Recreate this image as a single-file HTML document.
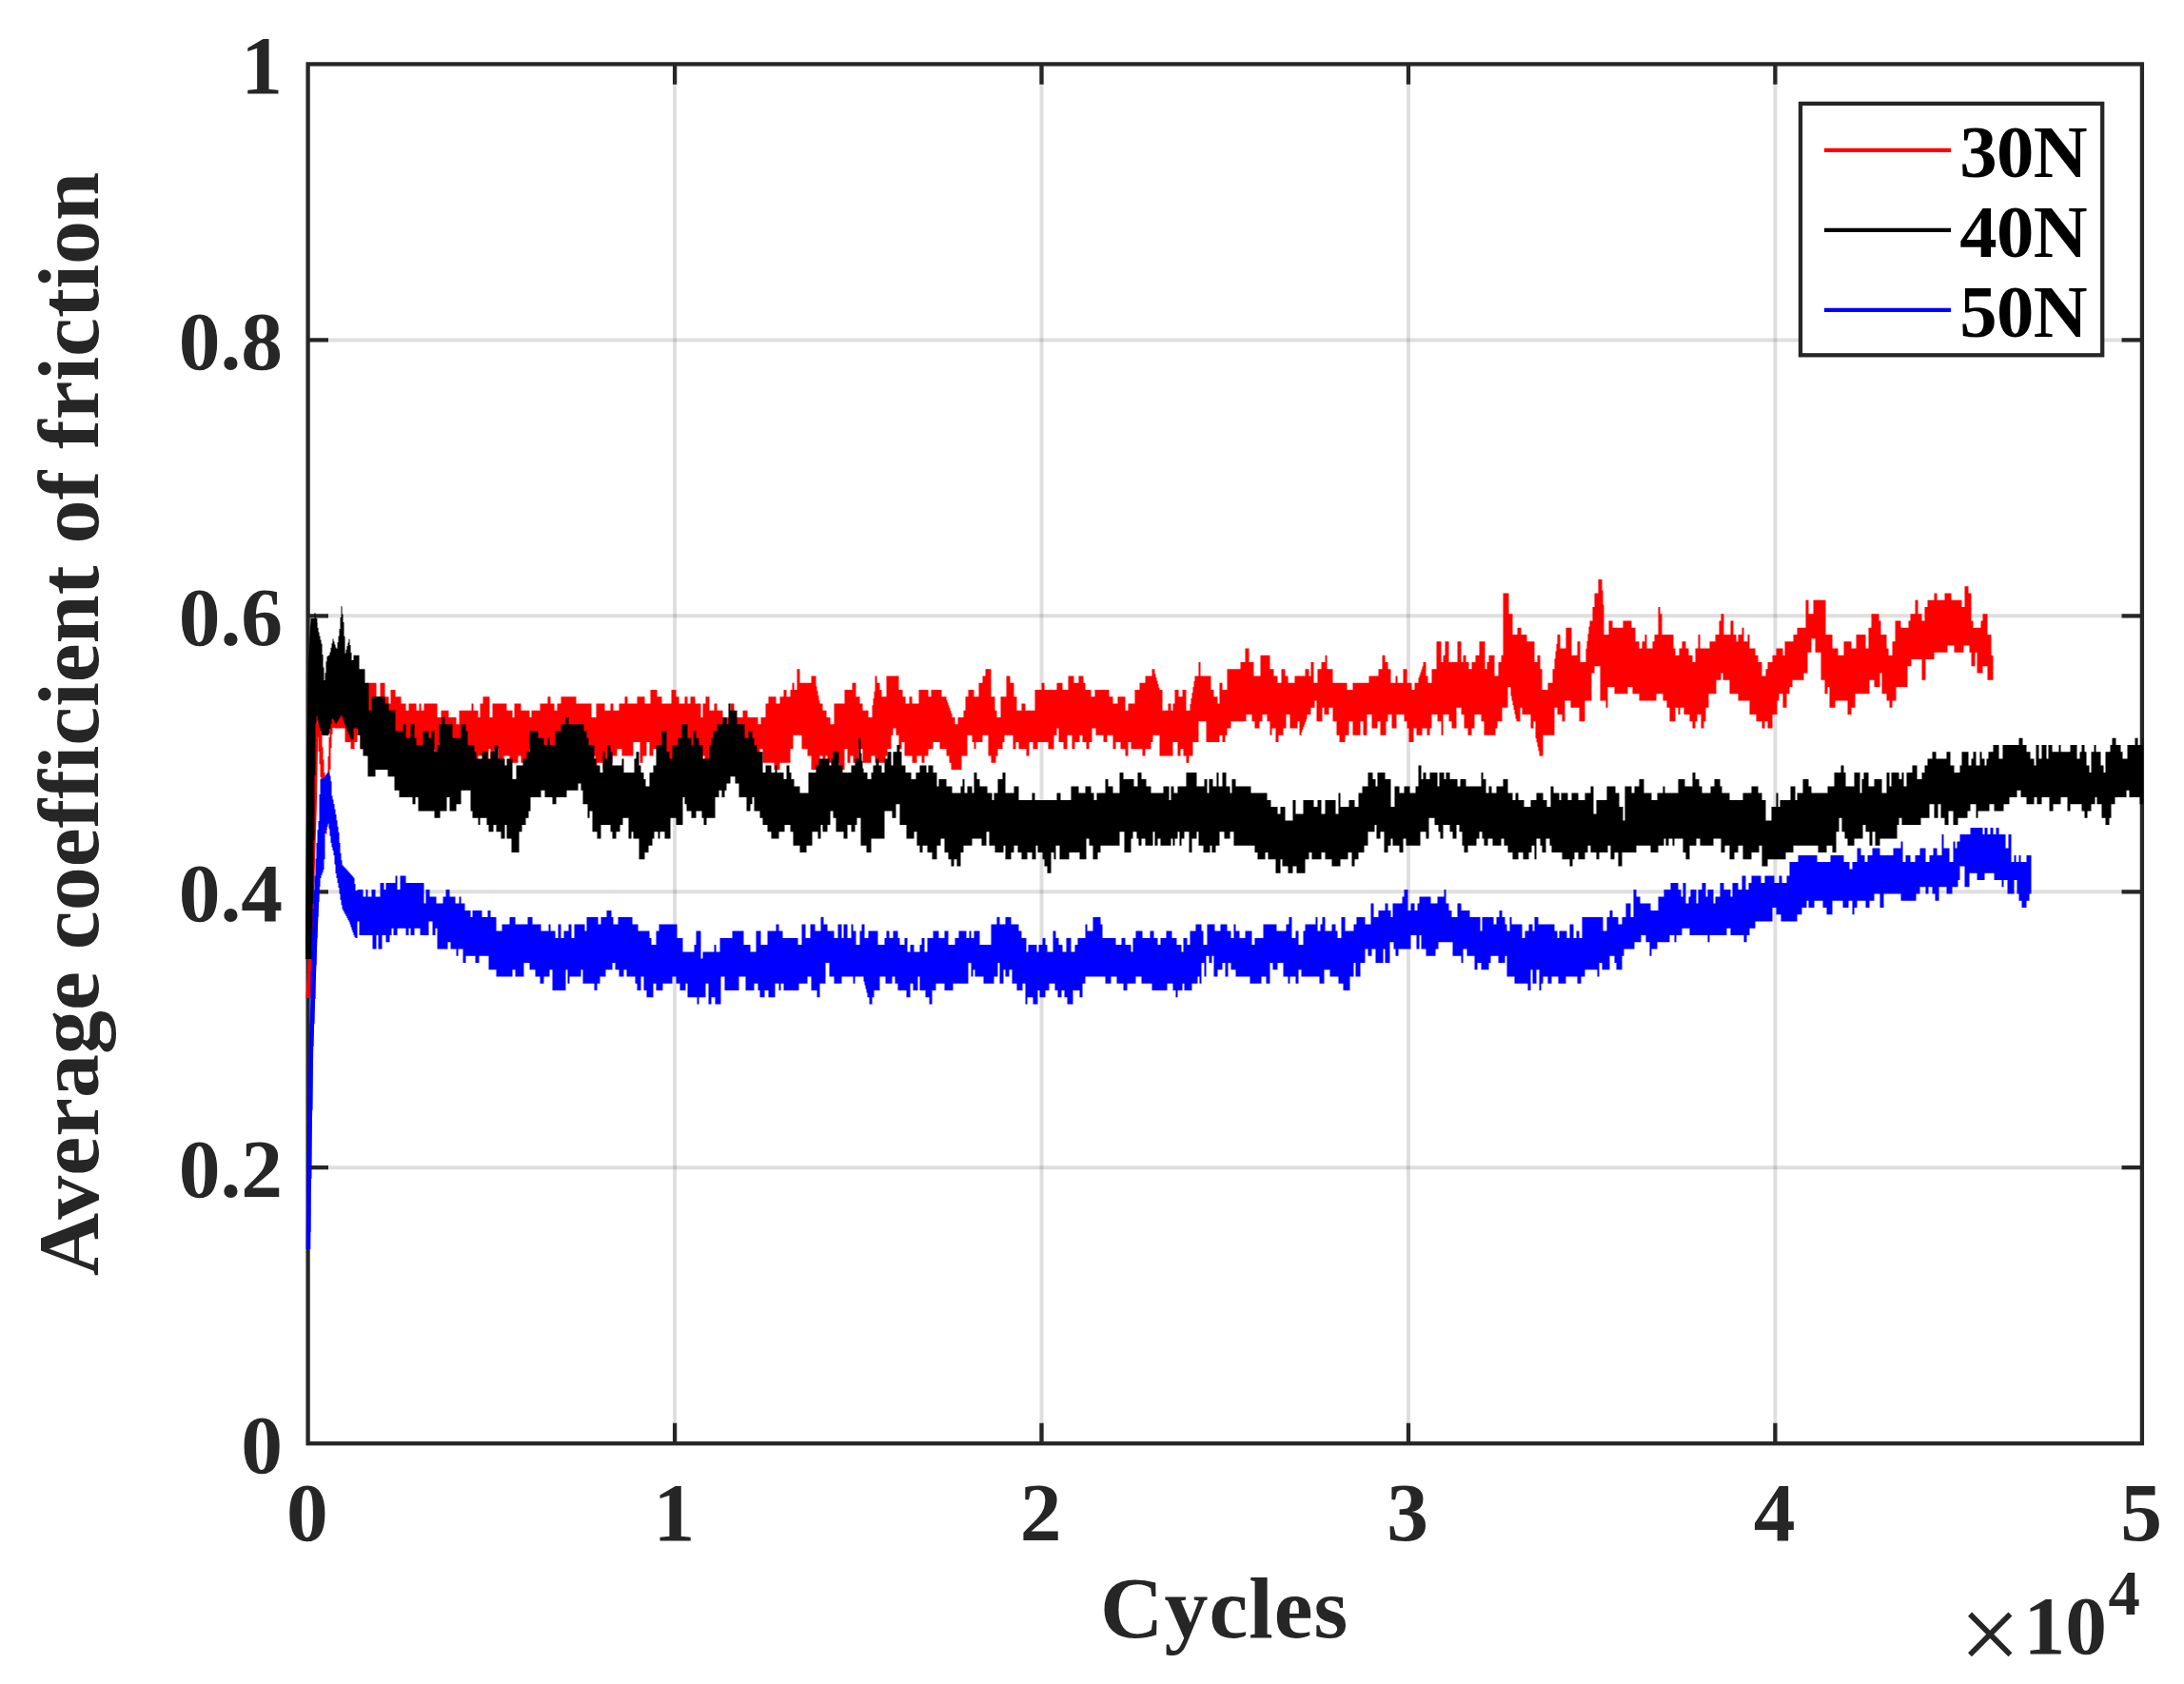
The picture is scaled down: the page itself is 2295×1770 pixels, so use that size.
<!DOCTYPE html>
<html lang="en"><head><meta charset="utf-8"><title>Average coefficient of friction vs Cycles</title>
<style>html,body{margin:0;padding:0;background:#fff;}body{width:2295px;height:1770px;overflow:hidden;}svg{display:block;}text{font-family:"Liberation Serif","Times New Roman",Times,serif;font-weight:bold;fill:#262626;font-variant-ligatures:none;}.tk{font-size:87.5px;}.lb{font-size:92px;}.lg{font-size:78.75px;fill:#000;}</style></head><body>
<svg width="2295" height="1770" viewBox="0 0 2295 1770">
<rect width="2295" height="1770" fill="#fff"/>
<defs><clipPath id="ax"><rect x="321.0" y="65.4" width="1931.1" height="1453.8"/></clipPath></defs>
<path d="M709.1,67.4V1517.2" stroke="#262626" stroke-opacity="0.15" stroke-width="4.0" fill="none"/>
<path d="M1094.5,67.4V1517.2" stroke="#262626" stroke-opacity="0.15" stroke-width="4.0" fill="none"/>
<path d="M1480.0,67.4V1517.2" stroke="#262626" stroke-opacity="0.15" stroke-width="4.0" fill="none"/>
<path d="M1865.4,67.4V1517.2" stroke="#262626" stroke-opacity="0.15" stroke-width="4.0" fill="none"/>
<path d="M323.6,1227.2H2250.9" stroke="#262626" stroke-opacity="0.15" stroke-width="4.0" fill="none"/>
<path d="M323.6,937.3H2250.9" stroke="#262626" stroke-opacity="0.15" stroke-width="4.0" fill="none"/>
<path d="M323.6,647.3H2250.9" stroke="#262626" stroke-opacity="0.15" stroke-width="4.0" fill="none"/>
<path d="M323.6,357.4H2250.9" stroke="#262626" stroke-opacity="0.15" stroke-width="4.0" fill="none"/>
<path d="M709.1,1517.2v-21.4M709.1,67.4v21.4M1094.5,1517.2v-21.4M1094.5,67.4v21.4M1480.0,1517.2v-21.4M1480.0,67.4v21.4M1865.4,1517.2v-21.4M1865.4,67.4v21.4M323.6,1227.2h21.4M2250.9,1227.2h-21.4M323.6,937.3h21.4M2250.9,937.3h-21.4M323.6,647.3h21.4M2250.9,647.3h-21.4M323.6,357.4h21.4M2250.9,357.4h-21.4" stroke="#262626" stroke-width="4.3" fill="none"/>
<rect x="323.6" y="67.4" width="1927.3" height="1449.8" fill="none" stroke="#262626" stroke-width="4.3"/>
<g clip-path="url(#ax)">
<path d="M324,1049L326.3,1000 328.6,900 330.3,850 332,760" fill="none" stroke="#ff0000" stroke-width="5"/>
<path d="M323.5,1040 324.5,1040 324.5,980 325.5,980 325.5,916.7 326.5,916.7 326.5,850 327.5,850 327.5,803.3 328.5,803.3 328.5,763.3 329.5,763.3 329.5,730 330.5,730 330.5,724 331.5,724 331.5,718 332.5,718 332.5,719 333.5,719 333.5,727 334.5,727 334.5,735 335.5,735 335.5,747.3 336.5,747.3 336.5,759.7 337.5,759.7 337.5,772 338.5,772 338.5,785.2 339.5,785.2 339.5,798.4 340.5,798.4 340.5,812.1 341.5,812.1 341.5,826.4 342.5,826.4 342.5,828.7 343.5,828.7 343.5,812.9 344.5,812.9 344.5,795 345.5,795 345.5,775 346.5,775 346.5,755 347.5,755 347.5,735 348.5,735 348.5,721.7 349.5,721.7 349.5,715 350.5,715 350.5,714.7 351.5,714.7 351.5,732.2 355.5,732.2 355.5,710.4 372.5,710.4 372.5,717.7 376.5,717.7 376.5,724.9 383.5,724.9 383.5,732.2 386.5,732.2 386.5,717.7 395.5,717.7 395.5,732.2 399.5,732.2 399.5,717.7 404.5,717.7 404.5,732.2 408.5,732.2 408.5,739.4 410.5,739.4 410.5,724.9 415.5,724.9 415.5,732.2 421.5,732.2 421.5,739.4 426.5,739.4 426.5,746.7 429.5,746.7 429.5,739.4 437.5,739.4 437.5,746.7 440.5,746.7 440.5,739.4 442.5,739.4 442.5,746.7 445.5,746.7 445.5,739.4 459.5,739.4 459.5,753.9 463.5,753.9 463.5,746.7 471.5,746.7 471.5,753.9 479.5,753.9 479.5,761.2 482.5,761.2 482.5,746.7 495.5,746.7 495.5,739.4 497.5,739.4 497.5,746.7 502.5,746.7 502.5,753.9 504.5,753.9 504.5,739.4 507.5,739.4 507.5,732.2 514.5,732.2 514.5,753.9 517.5,753.9 517.5,739.4 532.5,739.4 532.5,746.7 538.5,746.7 538.5,753.9 540.5,753.9 540.5,739.4 547.5,739.4 547.5,746.7 556.5,746.7 556.5,753.9 558.5,753.9 558.5,746.7 567.5,746.7 567.5,739.4 575.5,739.4 575.5,732.2 578.5,732.2 578.5,739.4 582.5,739.4 582.5,746.7 585.5,746.7 585.5,739.4 589.5,739.4 589.5,732.2 605.5,732.2 605.5,739.4 621.5,739.4 621.5,753.9 626.5,753.9 626.5,739.4 635.5,739.4 635.5,746.7 641.5,746.7 641.5,739.4 644.5,739.4 644.5,746.7 650.5,746.7 650.5,739.4 656.5,739.4 656.5,732.2 659.5,732.2 659.5,739.4 669.5,739.4 669.5,732.2 677.5,732.2 677.5,739.4 683.5,739.4 683.5,724.9 690.5,724.9 690.5,732.2 695.5,732.2 695.5,739.4 705.5,739.4 705.5,724.9 710.5,724.9 710.5,732.2 713.5,732.2 713.5,739.4 719.5,739.4 719.5,732.2 722.5,732.2 722.5,739.4 725.5,739.4 725.5,732.2 730.5,732.2 730.5,739.4 736.5,739.4 736.5,753.9 738.5,753.9 738.5,739.4 741.5,739.4 741.5,732.2 745.5,732.2 745.5,746.7 750.5,746.7 750.5,739.4 753.5,739.4 753.5,746.7 759.5,746.7 759.5,753.9 767.5,753.9 767.5,739.4 771.5,739.4 771.5,753.9 780.5,753.9 780.5,746.7 785.5,746.7 785.5,753.9 796.5,753.9 796.5,761.2 799.5,761.2 799.5,753.9 804.5,753.9 804.5,739.4 807.5,739.4 807.5,732.2 815.5,732.2 815.5,739.4 819.5,739.4 819.5,732.2 823.5,732.2 823.5,724.9 826.5,724.9 826.5,732.2 830.5,732.2 830.5,724.9 832.5,724.9 832.5,717.7 834.5,717.7 834.5,724.9 837.5,724.9 837.5,703.2 840.5,703.2 840.5,717.7 852.5,717.7 852.5,710.4 857.5,710.4 857.5,721.2 858.5,721.2 858.5,726.2 859.5,726.2 859.5,731.2 860.5,731.2 860.5,736.2 861.5,736.2 861.5,739.4 864.5,739.4 864.5,746.7 868.5,746.7 868.5,753.9 872.5,753.9 872.5,761.2 876.5,761.2 876.5,739.4 887.5,739.4 887.5,724.9 895.5,724.9 895.5,717.7 899.5,717.7 899.5,732.2 903.5,732.2 903.5,739.4 906.5,739.4 906.5,746.7 912.5,746.7 912.5,753.9 916.5,753.9 916.5,741.3 917.5,741.3 917.5,734.1 918.5,734.1 918.5,726.8 919.5,726.8 919.5,710.4 921.5,710.4 921.5,717.7 924.5,717.7 924.5,724.9 926.5,724.9 926.5,732.2 931.5,732.2 931.5,710.4 944.5,710.4 944.5,724.9 948.5,724.9 948.5,732.2 951.5,732.2 951.5,739.4 955.5,739.4 955.5,732.2 958.5,732.2 958.5,739.4 965.5,739.4 965.5,724.9 975.5,724.9 975.5,732.2 978.5,732.2 978.5,724.9 989.5,724.9 989.5,732.2 994.5,732.2 994.5,735.8 995.5,735.8 995.5,738.6 996.5,738.6 996.5,741.4 997.5,741.4 997.5,744.2 998.5,744.2 998.5,747 999.5,747 999.5,749.8 1000.5,749.8 1000.5,753.9 1003.5,753.9 1003.5,761.2 1006.5,761.2 1006.5,753.9 1012.5,753.9 1012.5,746.7 1014.5,746.7 1014.5,732.2 1017.5,732.2 1017.5,724.9 1023.5,724.9 1023.5,732.2 1028.5,732.2 1028.5,717.7 1032.5,717.7 1032.5,710.4 1035.5,710.4 1035.5,703.2 1041.5,703.2 1041.5,732.2 1045.5,732.2 1045.5,746.7 1047.5,746.7 1047.5,753.9 1051.5,753.9 1051.5,732.2 1057.5,732.2 1057.5,710.4 1061.5,710.4 1061.5,717.7 1065.5,717.7 1065.5,732.2 1068.5,732.2 1068.5,746.7 1073.5,746.7 1073.5,739.4 1077.5,739.4 1077.5,746.7 1087.5,746.7 1087.5,724.9 1094.5,724.9 1094.5,717.7 1097.5,717.7 1097.5,724.9 1110.5,724.9 1110.5,717.7 1116.5,717.7 1116.5,724.9 1122.5,724.9 1122.5,710.4 1128.5,710.4 1128.5,717.7 1133.5,717.7 1133.5,710.4 1138.5,710.4 1138.5,717.7 1140.5,717.7 1140.5,724.9 1146.5,724.9 1146.5,732.2 1150.5,732.2 1150.5,724.9 1165.5,724.9 1165.5,732.2 1169.5,732.2 1169.5,739.4 1174.5,739.4 1174.5,732.2 1182.5,732.2 1182.5,746.7 1185.5,746.7 1185.5,739.4 1192.5,739.4 1192.5,724.9 1197.5,724.9 1197.5,717.7 1203.5,717.7 1203.5,710.4 1210.5,710.4 1210.5,703.2 1213.5,703.2 1213.5,708.3 1214.5,708.3 1214.5,711.9 1215.5,711.9 1215.5,715.5 1216.5,715.5 1216.5,719.1 1217.5,719.1 1217.5,722.7 1218.5,722.7 1218.5,724.9 1221.5,724.9 1221.5,746.7 1227.5,746.7 1227.5,739.4 1230.5,739.4 1230.5,746.7 1232.5,746.7 1232.5,739.4 1234.5,739.4 1234.5,724.9 1238.5,724.9 1238.5,732.2 1242.5,732.2 1242.5,724.9 1246.5,724.9 1246.5,746.7 1250.5,746.7 1250.5,740.1 1251.5,740.1 1251.5,734.1 1252.5,734.1 1252.5,728.1 1253.5,728.1 1253.5,722.1 1254.5,722.1 1254.5,716.1 1255.5,716.1 1255.5,710.4 1259.5,710.4 1259.5,695.9 1261.5,695.9 1261.5,710.4 1272.5,710.4 1272.5,724.9 1275.5,724.9 1275.5,732.2 1279.5,732.2 1279.5,739.4 1281.5,739.4 1281.5,717.7 1284.5,717.7 1284.5,724.9 1289.5,724.9 1289.5,703.2 1303.5,703.2 1303.5,695.9 1308.5,695.9 1308.5,681.4 1312.5,681.4 1312.5,695.9 1317.5,695.9 1317.5,710.4 1324.5,710.4 1324.5,688.7 1334.5,688.7 1334.5,703.2 1338.5,703.2 1338.5,710.4 1342.5,710.4 1342.5,717.7 1346.5,717.7 1346.5,703.2 1350.5,703.2 1350.5,710.4 1353.5,710.4 1353.5,717.7 1360.5,717.7 1360.5,710.4 1371.5,710.4 1371.5,703.2 1375.5,703.2 1375.5,710.4 1377.5,710.4 1377.5,695.9 1380.5,695.9 1380.5,717.7 1384.5,717.7 1384.5,703.2 1388.5,703.2 1388.5,695.9 1392.5,695.9 1392.5,688.7 1394.5,688.7 1394.5,703.2 1400.5,703.2 1400.5,717.7 1415.5,717.7 1415.5,724.9 1421.5,724.9 1421.5,717.7 1438.5,717.7 1438.5,710.4 1448.5,710.4 1448.5,703.2 1452.5,703.2 1452.5,688.7 1455.5,688.7 1455.5,695.9 1458.5,695.9 1458.5,703.2 1461.5,703.2 1461.5,717.7 1466.5,717.7 1466.5,710.4 1468.5,710.4 1468.5,717.7 1474.5,717.7 1474.5,703.2 1478.5,703.2 1478.5,717.7 1483.5,717.7 1483.5,724.9 1486.5,724.9 1486.5,717.7 1490.5,717.7 1490.5,712.3 1491.5,712.3 1491.5,709.4 1492.5,709.4 1492.5,706.4 1493.5,706.4 1493.5,703.5 1494.5,703.5 1494.5,700.6 1495.5,700.6 1495.5,695.9 1498.5,695.9 1498.5,710.4 1500.5,710.4 1500.5,717.7 1504.5,717.7 1504.5,703.2 1509.5,703.2 1509.5,674.2 1514.5,674.2 1514.5,695.9 1516.5,695.9 1516.5,688.7 1518.5,688.7 1518.5,674.2 1522.5,674.2 1522.5,695.9 1531.5,695.9 1531.5,674.2 1535.5,674.2 1535.5,695.9 1537.5,695.9 1537.5,688.7 1540.5,688.7 1540.5,695.9 1543.5,695.9 1543.5,703.2 1546.5,703.2 1546.5,695.9 1550.5,695.9 1550.5,688.7 1554.5,688.7 1554.5,674.2 1560.5,674.2 1560.5,703.2 1562.5,703.2 1562.5,695.9 1564.5,695.9 1564.5,688.7 1570.5,688.7 1570.5,710.4 1574.5,710.4 1574.5,695.9 1577.5,695.9 1577.5,688.7 1579.5,688.7 1579.5,623.4 1585.5,623.4 1585.5,645.2 1589.5,645.2 1589.5,666.9 1594.5,666.9 1594.5,659.7 1598.5,659.7 1598.5,666.9 1604.5,666.9 1604.5,674.2 1612.5,674.2 1612.5,695.9 1615.5,695.9 1615.5,688.7 1618.5,688.7 1618.5,703.2 1620.5,703.2 1620.5,724.9 1626.5,724.9 1626.5,717.7 1631.5,717.7 1631.5,703.2 1633.5,703.2 1633.5,692.3 1634.5,692.3 1634.5,684.6 1635.5,684.6 1635.5,676.8 1636.5,676.8 1636.5,666.9 1639.5,666.9 1639.5,681.4 1645.5,681.4 1645.5,659.7 1651.5,659.7 1651.5,688.7 1657.5,688.7 1657.5,674.2 1660.5,674.2 1660.5,695.9 1666.5,695.9 1666.5,681.8 1667.5,681.8 1667.5,674.1 1668.5,674.1 1668.5,666.3 1669.5,666.3 1669.5,658.6 1670.5,658.6 1670.5,652.4 1673.5,652.4 1673.5,637.9 1675.5,637.9 1675.5,623.4 1679.5,623.4 1679.5,608.9 1683.5,608.9 1683.5,620.6 1684.5,620.6 1684.5,635.4 1685.5,635.4 1685.5,666.9 1690.5,666.9 1690.5,652.4 1694.5,652.4 1694.5,659.7 1705.5,659.7 1705.5,652.4 1714.5,652.4 1714.5,659.7 1718.5,659.7 1718.5,674.2 1722.5,674.2 1722.5,681.4 1725.5,681.4 1725.5,674.2 1728.5,674.2 1728.5,666.9 1730.5,666.9 1730.5,681.4 1736.5,681.4 1736.5,674.2 1738.5,674.2 1738.5,666.9 1742.5,666.9 1742.5,637.9 1744.5,637.9 1744.5,645.2 1746.5,645.2 1746.5,666.9 1758.5,666.9 1758.5,681.4 1760.5,681.4 1760.5,688.7 1764.5,688.7 1764.5,681.4 1767.5,681.4 1767.5,674.2 1771.5,674.2 1771.5,681.4 1774.5,681.4 1774.5,688.7 1778.5,688.7 1778.5,695.9 1781.5,695.9 1781.5,681.4 1784.5,681.4 1784.5,666.9 1786.5,666.9 1786.5,681.4 1796.5,681.4 1796.5,674.2 1802.5,674.2 1802.5,666.9 1806.5,666.9 1806.5,652.4 1808.5,652.4 1808.5,645.2 1811.5,645.2 1811.5,666.9 1818.5,666.9 1818.5,652.4 1821.5,652.4 1821.5,666.9 1824.5,666.9 1824.5,674.2 1826.5,674.2 1826.5,666.9 1830.5,666.9 1830.5,659.7 1832.5,659.7 1832.5,674.2 1836.5,674.2 1836.5,666.9 1838.5,666.9 1838.5,681.4 1844.5,681.4 1844.5,688.7 1847.5,688.7 1847.5,695.9 1851.5,695.9 1851.5,710.4 1855.5,710.4 1855.5,703.2 1857.5,703.2 1857.5,695.9 1862.5,695.9 1862.5,688.7 1866.5,688.7 1866.5,681.4 1873.5,681.4 1873.5,688.7 1875.5,688.7 1875.5,674.2 1884.5,674.2 1884.5,666.9 1888.5,666.9 1888.5,659.7 1897.5,659.7 1897.5,630.7 1900.5,630.7 1900.5,645.2 1905.5,645.2 1905.5,630.7 1918.5,630.7 1918.5,666.9 1925.5,666.9 1925.5,681.4 1931.5,681.4 1931.5,688.7 1937.5,688.7 1937.5,674.2 1945.5,674.2 1945.5,681.4 1950.5,681.4 1950.5,666.9 1960.5,666.9 1960.5,681.4 1963.5,681.4 1963.5,659.7 1966.5,659.7 1966.5,645.2 1974.5,645.2 1974.5,652.4 1976.5,652.4 1976.5,666.9 1982.5,666.9 1982.5,681.4 1984.5,681.4 1984.5,688.7 1988.5,688.7 1988.5,674.2 1991.5,674.2 1991.5,652.4 1997.5,652.4 1997.5,659.7 2005.5,659.7 2005.5,652.4 2007.5,652.4 2007.5,645.2 2012.5,645.2 2012.5,630.7 2015.5,630.7 2015.5,645.2 2019.5,645.2 2019.5,652.4 2022.5,652.4 2022.5,637.9 2025.5,637.9 2025.5,630.7 2032.5,630.7 2032.5,623.4 2035.5,623.4 2035.5,630.7 2043.5,630.7 2043.5,623.4 2050.5,623.4 2050.5,630.7 2061.5,630.7 2061.5,637.9 2064.5,637.9 2064.5,616.2 2068.5,616.2 2068.5,623.4 2071.5,623.4 2071.5,652.4 2073.5,652.4 2073.5,659.7 2081.5,659.7 2081.5,652.4 2083.5,652.4 2083.5,645.2 2088.5,645.2 2088.5,666.9 2092.5,666.9 2092.5,688.7 2094.5,688.7 2094.5,714.7 2088.5,714.7 2088.5,700.2 2083.5,700.2 2083.5,707.5 2077.5,707.5 2077.5,685.7 2075.5,685.7 2075.5,700.2 2071.5,700.2 2071.5,685.7 2069.5,685.7 2069.5,678.5 2063.5,678.5 2063.5,685.7 2053.5,685.7 2053.5,678.5 2046.5,678.5 2046.5,685.7 2032.5,685.7 2032.5,693 2023.5,693 2023.5,714.7 2019.5,714.7 2019.5,693 2008.5,693 2008.5,700.2 2004.5,700.2 2004.5,722 1992.5,722 1992.5,736.5 1988.5,736.5 1988.5,743.7 1985.5,743.7 1985.5,736.5 1982.5,736.5 1982.5,729.2 1977.5,729.2 1977.5,707.5 1975.5,707.5 1975.5,722 1969.5,722 1969.5,714.7 1964.5,714.7 1964.5,729.2 1949.5,729.2 1949.5,743.7 1945.5,743.7 1945.5,751 1941.5,751 1941.5,736.5 1928.5,736.5 1928.5,743.7 1922.5,743.7 1922.5,722 1920.5,722 1920.5,729.2 1917.5,729.2 1917.5,714.7 1913.5,714.7 1913.5,685.7 1907.5,685.7 1907.5,671.2 1903.5,671.2 1903.5,685.7 1899.5,685.7 1899.5,707.5 1895.5,707.5 1895.5,714.7 1883.5,714.7 1883.5,722 1880.5,722 1880.5,729.2 1877.5,729.2 1877.5,743.7 1873.5,743.7 1873.5,729.2 1869.5,729.2 1869.5,736.5 1867.5,736.5 1867.5,751 1862.5,751 1862.5,765.5 1857.5,765.5 1857.5,758.2 1854.5,758.2 1854.5,765.5 1851.5,765.5 1851.5,758.2 1845.5,758.2 1845.5,751 1838.5,751 1838.5,736.5 1826.5,736.5 1826.5,729.2 1817.5,729.2 1817.5,714.7 1810.5,714.7 1810.5,707.5 1808.5,707.5 1808.5,714.7 1803.5,714.7 1803.5,729.2 1795.5,729.2 1795.5,743.7 1792.5,743.7 1792.5,758.2 1790.5,758.2 1790.5,765.5 1787.5,765.5 1787.5,751 1783.5,751 1783.5,758.2 1781.5,758.2 1781.5,765.5 1778.5,765.5 1778.5,758.2 1775.5,758.2 1775.5,751 1769.5,751 1769.5,743.7 1765.5,743.7 1765.5,751 1763.5,751 1763.5,743.7 1760.5,743.7 1760.5,758.2 1754.5,758.2 1754.5,743.7 1751.5,743.7 1751.5,736.5 1747.5,736.5 1747.5,729.2 1740.5,729.2 1740.5,736.5 1722.5,736.5 1722.5,729.2 1715.5,729.2 1715.5,722 1710.5,722 1710.5,729.2 1696.5,729.2 1696.5,722 1689.5,722 1689.5,743.7 1687.5,743.7 1687.5,736.5 1681.5,736.5 1681.5,700.2 1675.5,700.2 1675.5,707.5 1672.5,707.5 1672.5,736.5 1665.5,736.5 1665.5,758.2 1659.5,758.2 1659.5,743.7 1650.5,743.7 1650.5,736.5 1644.5,736.5 1644.5,758.2 1641.5,758.2 1641.5,751 1636.5,751 1636.5,743.7 1633.5,743.7 1633.5,772.7 1621.5,772.7 1621.5,794.5 1617.5,794.5 1617.5,789.2 1616.5,789.2 1616.5,784.8 1615.5,784.8 1615.5,780.3 1614.5,780.3 1614.5,775.9 1613.5,775.9 1613.5,758.2 1611.5,758.2 1611.5,765.5 1608.5,765.5 1608.5,751 1599.5,751 1599.5,743.7 1597.5,743.7 1597.5,758.2 1593.5,758.2 1593.5,755.6 1592.5,755.6 1592.5,750.8 1591.5,750.8 1591.5,746 1590.5,746 1590.5,741.2 1589.5,741.2 1589.5,736.4 1588.5,736.4 1588.5,731.6 1587.5,731.6 1587.5,722 1584.5,722 1584.5,743.7 1578.5,743.7 1578.5,758.2 1573.5,758.2 1573.5,765.5 1571.5,765.5 1571.5,772.7 1559.5,772.7 1559.5,758.2 1556.5,758.2 1556.5,751 1549.5,751 1549.5,765.5 1546.5,765.5 1546.5,772.7 1542.5,772.7 1542.5,765.5 1538.5,765.5 1538.5,751 1535.5,751 1535.5,743.7 1530.5,743.7 1530.5,765.5 1525.5,765.5 1525.5,758.2 1522.5,758.2 1522.5,751 1516.5,751 1516.5,772.7 1514.5,772.7 1514.5,758.2 1510.5,758.2 1510.5,751 1504.5,751 1504.5,765.5 1502.5,765.5 1502.5,772.7 1499.5,772.7 1499.5,765.5 1494.5,765.5 1494.5,772.7 1488.5,772.7 1488.5,765.5 1485.5,765.5 1485.5,780 1480.5,780 1480.5,765.5 1478.5,765.5 1478.5,758.2 1475.5,758.2 1475.5,751 1467.5,751 1467.5,765.5 1462.5,765.5 1462.5,751 1458.5,751 1458.5,758.2 1456.5,758.2 1456.5,772.7 1450.5,772.7 1450.5,758.2 1447.5,758.2 1447.5,765.5 1441.5,765.5 1441.5,751 1436.5,751 1436.5,772.7 1432.5,772.7 1432.5,758.2 1429.5,758.2 1429.5,772.7 1421.5,772.7 1421.5,758.2 1417.5,758.2 1417.5,772.7 1413.5,772.7 1413.5,780 1407.5,780 1407.5,772.7 1404.5,772.7 1404.5,758.2 1400.5,758.2 1400.5,743.7 1396.5,743.7 1396.5,751 1391.5,751 1391.5,743.7 1389.5,743.7 1389.5,758.2 1383.5,758.2 1383.5,736.5 1381.5,736.5 1381.5,743.7 1377.5,743.7 1377.5,751 1373.5,751 1373.5,756 1372.5,756 1372.5,758.7 1371.5,758.7 1371.5,761.4 1370.5,761.4 1370.5,764.1 1369.5,764.1 1369.5,766.8 1368.5,766.8 1368.5,769.5 1367.5,769.5 1367.5,772.7 1365.5,772.7 1365.5,758.2 1363.5,758.2 1363.5,765.5 1355.5,765.5 1355.5,751 1351.5,751 1351.5,765.5 1348.5,765.5 1348.5,772.7 1343.5,772.7 1343.5,780 1340.5,780 1340.5,765.5 1336.5,765.5 1336.5,772.7 1334.5,772.7 1334.5,758.2 1331.5,758.2 1331.5,751 1326.5,751 1326.5,758.2 1323.5,758.2 1323.5,765.5 1318.5,765.5 1318.5,758.2 1315.5,758.2 1315.5,751 1309.5,751 1309.5,758.2 1293.5,758.2 1293.5,765.5 1289.5,765.5 1289.5,772.7 1287.5,772.7 1287.5,780 1284.5,780 1284.5,772.7 1281.5,772.7 1281.5,780 1267.5,780 1267.5,758.2 1259.5,758.2 1259.5,780 1253.5,780 1253.5,794.5 1249.5,794.5 1249.5,801.7 1246.5,801.7 1246.5,794.5 1243.5,794.5 1243.5,787.2 1240.5,787.2 1240.5,794.5 1237.5,794.5 1237.5,780 1232.5,780 1232.5,794.5 1218.5,794.5 1218.5,772.7 1211.5,772.7 1211.5,780 1209.5,780 1209.5,787.2 1203.5,787.2 1203.5,794.5 1200.5,794.5 1200.5,787.2 1188.5,787.2 1188.5,780 1185.5,780 1185.5,794.5 1182.5,794.5 1182.5,787.2 1177.5,787.2 1177.5,780 1172.5,780 1172.5,787.2 1169.5,787.2 1169.5,772.7 1163.5,772.7 1163.5,780 1159.5,780 1159.5,772.7 1151.5,772.7 1151.5,765.5 1147.5,765.5 1147.5,780 1144.5,780 1144.5,787.2 1141.5,787.2 1141.5,780 1137.5,780 1137.5,772.7 1134.5,772.7 1134.5,780 1129.5,780 1129.5,787.2 1126.5,787.2 1126.5,772.7 1121.5,772.7 1121.5,787.2 1117.5,787.2 1117.5,780 1112.5,780 1112.5,765.5 1110.5,765.5 1110.5,772.7 1107.5,772.7 1107.5,787.2 1101.5,787.2 1101.5,780 1090.5,780 1090.5,787.2 1085.5,787.2 1085.5,780 1081.5,780 1081.5,794.5 1078.5,794.5 1078.5,787.2 1070.5,787.2 1070.5,780 1067.5,780 1067.5,787.2 1064.5,787.2 1064.5,772.7 1055.5,772.7 1055.5,780 1053.5,780 1053.5,787.2 1048.5,787.2 1048.5,794.5 1046.5,794.5 1046.5,801.7 1041.5,801.7 1041.5,794.5 1038.5,794.5 1038.5,772.7 1032.5,772.7 1032.5,780 1025.5,780 1025.5,787.2 1023.5,787.2 1023.5,780 1021.5,780 1021.5,772.7 1016.5,772.7 1016.5,794.5 1010.5,794.5 1010.5,808.9 999.5,808.9 999.5,801.7 997.5,801.7 997.5,794.5 994.5,794.5 994.5,787.2 987.5,787.2 987.5,780 980.5,780 980.5,787.2 975.5,787.2 975.5,794.5 971.5,794.5 971.5,801.7 968.5,801.7 968.5,794.5 963.5,794.5 963.5,801.7 958.5,801.7 958.5,794.5 950.5,794.5 950.5,780 947.5,780 947.5,787.2 944.5,787.2 944.5,772.7 941.5,772.7 941.5,765.5 938.5,765.5 938.5,772.7 936.5,772.7 936.5,787.2 932.5,787.2 932.5,794.5 930.5,794.5 930.5,801.7 919.5,801.7 919.5,794.5 915.5,794.5 915.5,801.7 906.5,801.7 906.5,787.2 902.5,787.2 902.5,801.7 896.5,801.7 896.5,794.5 893.5,794.5 893.5,801.7 890.5,801.7 890.5,787.2 887.5,787.2 887.5,808.9 881.5,808.9 881.5,801.7 869.5,801.7 869.5,794.5 867.5,794.5 867.5,801.7 864.5,801.7 864.5,794.5 861.5,794.5 861.5,808.9 852.5,808.9 852.5,794.5 848.5,794.5 848.5,787.2 842.5,787.2 842.5,772.7 833.5,772.7 833.5,787.2 830.5,787.2 830.5,801.7 819.5,801.7 819.5,808.9 813.5,808.9 813.5,801.7 801.5,801.7 801.5,787.2 798.5,787.2 798.5,801.7 778.5,801.7 778.5,808.9 775.5,808.9 775.5,787.2 769.5,787.2 769.5,801.7 766.5,801.7 766.5,794.5 760.5,794.5 760.5,801.7 747.5,801.7 747.5,808.9 744.5,808.9 744.5,801.7 740.5,801.7 740.5,794.5 738.5,794.5 738.5,801.7 735.5,801.7 735.5,794.5 731.5,794.5 731.5,801.7 698.5,801.7 698.5,794.5 696.5,794.5 696.5,801.7 692.5,801.7 692.5,787.2 686.5,787.2 686.5,794.5 682.5,794.5 682.5,780 679.5,780 679.5,794.5 675.5,794.5 675.5,801.7 672.5,801.7 672.5,780 665.5,780 665.5,794.5 653.5,794.5 653.5,787.2 648.5,787.2 648.5,794.5 643.5,794.5 643.5,801.7 636.5,801.7 636.5,808.9 633.5,808.9 633.5,801.7 627.5,801.7 627.5,808.9 625.5,808.9 625.5,794.5 619.5,794.5 619.5,801.7 615.5,801.7 615.5,794.5 610.5,794.5 610.5,801.7 605.5,801.7 605.5,787.2 602.5,787.2 602.5,808.9 597.5,808.9 597.5,801.7 594.5,801.7 594.5,794.5 590.5,794.5 590.5,801.7 581.5,801.7 581.5,794.5 570.5,794.5 570.5,801.7 562.5,801.7 562.5,808.9 559.5,808.9 559.5,787.2 556.5,787.2 556.5,801.7 547.5,801.7 547.5,794.5 544.5,794.5 544.5,801.7 535.5,801.7 535.5,794.5 529.5,794.5 529.5,801.7 526.5,801.7 526.5,808.9 523.5,808.9 523.5,787.2 519.5,787.2 519.5,808.9 515.5,808.9 515.5,787.2 513.5,787.2 513.5,801.7 507.5,801.7 507.5,794.5 502.5,794.5 502.5,801.7 499.5,801.7 499.5,808.9 493.5,808.9 493.5,801.7 484.5,801.7 484.5,794.5 481.5,794.5 481.5,801.7 472.5,801.7 472.5,794.5 464.5,794.5 464.5,780 461.5,780 461.5,794.5 456.5,794.5 456.5,787.2 452.5,787.2 452.5,794.5 446.5,794.5 446.5,787.2 443.5,787.2 443.5,794.5 437.5,794.5 437.5,787.2 433.5,787.2 433.5,794.5 429.5,794.5 429.5,780 427.5,780 427.5,794.5 420.5,794.5 420.5,787.2 417.5,787.2 417.5,794.5 407.5,794.5 407.5,787.2 405.5,787.2 405.5,801.7 399.5,801.7 399.5,794.5 390.5,794.5 390.5,801.7 388.5,801.7 388.5,794.5 385.5,794.5 385.5,772.7 381.5,772.7 381.5,787.2 378.5,787.2 378.5,765.5 375.5,765.5 375.5,780 372.5,780 372.5,787.2 368.5,787.2 368.5,780 362.5,780 362.5,765.5 351.5,765.5 351.5,765 349.5,765 349.5,771.7 348.5,771.7 348.5,786.2 347.5,786.2 347.5,808.8 346.5,808.8 346.5,830.5 345.5,830.5 345.5,851.5 344.5,851.5 344.5,867 343.5,867 343.5,877 342.5,877 342.5,875.6 341.5,875.6 341.5,866.5 340.5,866.5 340.5,855.6 339.5,855.6 339.5,842.8 338.5,842.8 338.5,830 337.5,830 337.5,816.7 336.5,816.7 336.5,803.3 335.5,803.3 335.5,790 334.5,790 334.5,774.8 333.5,774.8 333.5,759.6 332.5,759.6 332.5,764.7 331.5,764.7 331.5,790 330.5,790 330.5,863.3 329.5,863.3 329.5,933.3 328.5,933.3 328.5,1000 327.5,1000 327.5,1024.5 326.5,1024.5 326.5,1049 323.5,1049Z" fill="#ff0000"/>
<path d="M324.2,1008L325.8,820 327.5,700 330,650" fill="none" stroke="#000000" stroke-width="7"/>
<path d="M323.5,1000 324.5,1000 324.5,950 325.5,950 325.5,900 326.5,900 326.5,800 327.5,800 327.5,733.3 328.5,733.3 328.5,687.5 329.5,687.5 329.5,662.5 330.5,662.5 330.5,644.2 331.5,644.2 331.5,649.4 332.5,649.4 332.5,654.6 333.5,654.6 333.5,659.8 334.5,659.8 334.5,664.4 335.5,664.4 335.5,668.4 336.5,668.4 336.5,672.4 337.5,672.4 337.5,676.4 338.5,676.4 338.5,688 339.5,688 339.5,701.5 340.5,701.5 340.5,715 341.5,715 341.5,707.3 342.5,707.3 342.5,695.3 343.5,695.3 343.5,690.1 344.5,690.1 344.5,689.3 345.5,689.3 345.5,688.6 346.5,688.6 346.5,685.4 347.5,685.4 347.5,680.8 348.5,680.8 348.5,676.2 349.5,676.2 349.5,671.6 350.5,671.6 350.5,674.2 351.5,674.2 351.5,677.4 352.5,677.4 352.5,680.6 353.5,680.6 353.5,681.7 354.5,681.7 354.5,675.2 355.5,675.2 355.5,668.7 356.5,668.7 356.5,660.9 357.5,660.9 357.5,648.9 358.5,648.9 358.5,637.3 359.5,637.3 359.5,645.6 360.5,645.6 360.5,653.9 361.5,653.9 361.5,668.8 362.5,668.8 362.5,686.4 363.5,686.4 363.5,682.8 364.5,682.8 364.5,679.1 365.5,679.1 365.5,675.4 366.5,675.4 366.5,671.8 367.5,671.8 367.5,678.1 368.5,678.1 368.5,686.1 369.5,686.1 369.5,694.1 370.5,694.1 370.5,693.7 371.5,693.7 371.5,688.7 377.5,688.7 377.5,703.2 383.5,703.2 383.5,717.7 387.5,717.7 387.5,746.7 390.5,746.7 390.5,732.2 404.5,732.2 404.5,739.4 408.5,739.4 408.5,746.7 415.5,746.7 415.5,768.4 423.5,768.4 423.5,761.2 426.5,761.2 426.5,775.7 431.5,775.7 431.5,761.2 435.5,761.2 435.5,775.7 437.5,775.7 437.5,782.9 444.5,782.9 444.5,768.4 450.5,768.4 450.5,775.7 453.5,775.7 453.5,768.4 456.5,768.4 456.5,790.2 459.5,790.2 459.5,782.9 461.5,782.9 461.5,761.2 464.5,761.2 464.5,753.9 467.5,753.9 467.5,761.2 475.5,761.2 475.5,775.7 484.5,775.7 484.5,761.2 489.5,761.2 489.5,768.4 491.5,768.4 491.5,782.9 498.5,782.9 498.5,790.2 500.5,790.2 500.5,797.4 506.5,797.4 506.5,790.2 512.5,790.2 512.5,797.4 515.5,797.4 515.5,790.2 519.5,790.2 519.5,782.9 523.5,782.9 523.5,797.4 530.5,797.4 530.5,804.6 532.5,804.6 532.5,797.4 538.5,797.4 538.5,819.1 542.5,819.1 542.5,804.6 549.5,804.6 549.5,797.4 553.5,797.4 553.5,790.2 556.5,790.2 556.5,768.4 565.5,768.4 565.5,775.7 571.5,775.7 571.5,782.9 575.5,782.9 575.5,775.7 577.5,775.7 577.5,782.9 583.5,782.9 583.5,768.4 589.5,768.4 589.5,761.2 594.5,761.2 594.5,753.9 597.5,753.9 597.5,761.2 613.5,761.2 613.5,768.4 616.5,768.4 616.5,775.7 618.5,775.7 618.5,782.9 624.5,782.9 624.5,797.4 626.5,797.4 626.5,804.6 630.5,804.6 630.5,811.9 633.5,811.9 633.5,790.2 635.5,790.2 635.5,797.4 638.5,797.4 638.5,782.9 641.5,782.9 641.5,790.2 643.5,790.2 643.5,804.6 653.5,804.6 653.5,797.4 655.5,797.4 655.5,811.9 666.5,811.9 666.5,797.4 668.5,797.4 668.5,790.2 671.5,790.2 671.5,804.6 673.5,804.6 673.5,811.9 676.5,811.9 676.5,819.1 678.5,819.1 678.5,826.4 682.5,826.4 682.5,811.9 686.5,811.9 686.5,804.6 689.5,804.6 689.5,782.9 695.5,782.9 695.5,768.4 700.5,768.4 700.5,790.2 703.5,790.2 703.5,797.4 706.5,797.4 706.5,782.9 712.5,782.9 712.5,775.7 716.5,775.7 716.5,761.2 722.5,761.2 722.5,775.7 726.5,775.7 726.5,782.9 728.5,782.9 728.5,768.4 731.5,768.4 731.5,775.7 734.5,775.7 734.5,782.9 738.5,782.9 738.5,797.4 745.5,797.4 745.5,782.9 747.5,782.9 747.5,775.7 749.5,775.7 749.5,768.4 753.5,768.4 753.5,761.2 759.5,761.2 759.5,753.9 763.5,753.9 763.5,761.2 765.5,761.2 765.5,739.4 767.5,739.4 767.5,746.7 774.5,746.7 774.5,761.2 782.5,761.2 782.5,775.7 786.5,775.7 786.5,768.4 790.5,768.4 790.5,775.7 792.5,775.7 792.5,782.9 795.5,782.9 795.5,790.2 801.5,790.2 801.5,811.9 804.5,811.9 804.5,804.6 810.5,804.6 810.5,811.9 814.5,811.9 814.5,804.6 816.5,804.6 816.5,811.9 823.5,811.9 823.5,819.1 826.5,819.1 826.5,804.6 829.5,804.6 829.5,811.9 831.5,811.9 831.5,819.1 834.5,819.1 834.5,826.4 840.5,826.4 840.5,833.6 849.5,833.6 849.5,811.9 857.5,811.9 857.5,804.6 860.5,804.6 860.5,797.4 871.5,797.4 871.5,804.6 873.5,804.6 873.5,797.4 875.5,797.4 875.5,790.2 881.5,790.2 881.5,804.6 885.5,804.6 885.5,811.9 894.5,811.9 894.5,804.6 898.5,804.6 898.5,797.4 902.5,797.4 902.5,775.7 904.5,775.7 904.5,791.8 905.5,791.8 905.5,799.8 906.5,799.8 906.5,807.7 907.5,807.7 907.5,811.9 911.5,811.9 911.5,819.1 915.5,819.1 915.5,811.9 917.5,811.9 917.5,804.6 920.5,804.6 920.5,797.4 923.5,797.4 923.5,804.6 926.5,804.6 926.5,811.9 929.5,811.9 929.5,797.4 932.5,797.4 932.5,790.2 936.5,790.2 936.5,804.6 938.5,804.6 938.5,790.2 942.5,790.2 942.5,782.9 945.5,782.9 945.5,790.2 947.5,790.2 947.5,804.6 951.5,804.6 951.5,811.9 957.5,811.9 957.5,819.1 962.5,819.1 962.5,811.9 966.5,811.9 966.5,804.6 973.5,804.6 973.5,811.9 975.5,811.9 975.5,804.6 980.5,804.6 980.5,811.9 984.5,811.9 984.5,826.4 986.5,826.4 986.5,819.1 994.5,819.1 994.5,826.4 1000.5,826.4 1000.5,833.6 1009.5,833.6 1009.5,826.4 1011.5,826.4 1011.5,819.1 1013.5,819.1 1013.5,833.6 1016.5,833.6 1016.5,826.4 1021.5,826.4 1021.5,833.6 1023.5,833.6 1023.5,811.9 1026.5,811.9 1026.5,819.1 1029.5,819.1 1029.5,826.4 1037.5,826.4 1037.5,833.6 1042.5,833.6 1042.5,840.9 1044.5,840.9 1044.5,833.6 1048.5,833.6 1048.5,819.1 1053.5,819.1 1053.5,811.9 1056.5,811.9 1056.5,833.6 1065.5,833.6 1065.5,826.4 1070.5,826.4 1070.5,840.9 1084.5,840.9 1084.5,833.6 1087.5,833.6 1087.5,840.9 1110.5,840.9 1110.5,833.6 1114.5,833.6 1114.5,840.9 1125.5,840.9 1125.5,826.4 1133.5,826.4 1133.5,833.6 1140.5,833.6 1140.5,826.4 1146.5,826.4 1146.5,833.6 1149.5,833.6 1149.5,840.9 1152.5,840.9 1152.5,833.6 1161.5,833.6 1161.5,819.1 1164.5,819.1 1164.5,826.4 1169.5,826.4 1169.5,833.6 1176.5,833.6 1176.5,811.9 1180.5,811.9 1180.5,819.1 1191.5,819.1 1191.5,826.4 1195.5,826.4 1195.5,811.9 1199.5,811.9 1199.5,819.1 1204.5,819.1 1204.5,826.4 1209.5,826.4 1209.5,833.6 1222.5,833.6 1222.5,826.4 1228.5,826.4 1228.5,840.9 1230.5,840.9 1230.5,826.4 1233.5,826.4 1233.5,833.6 1237.5,833.6 1237.5,826.4 1246.5,826.4 1246.5,811.9 1257.5,811.9 1257.5,826.4 1265.5,826.4 1265.5,819.1 1268.5,819.1 1268.5,833.6 1270.5,833.6 1270.5,819.1 1274.5,819.1 1274.5,826.4 1278.5,826.4 1278.5,811.9 1280.5,811.9 1280.5,826.4 1284.5,826.4 1284.5,811.9 1288.5,811.9 1288.5,826.4 1292.5,826.4 1292.5,833.6 1294.5,833.6 1294.5,819.1 1298.5,819.1 1298.5,826.4 1314.5,826.4 1314.5,833.6 1331.5,833.6 1331.5,840.9 1335.5,840.9 1335.5,848.1 1342.5,848.1 1342.5,855.4 1345.5,855.4 1345.5,848.1 1350.5,848.1 1350.5,862.6 1358.5,862.6 1358.5,840.9 1361.5,840.9 1361.5,855.4 1369.5,855.4 1369.5,840.9 1380.5,840.9 1380.5,848.1 1384.5,848.1 1384.5,840.9 1388.5,840.9 1388.5,855.4 1392.5,855.4 1392.5,840.9 1403.5,840.9 1403.5,855.4 1406.5,855.4 1406.5,833.6 1408.5,833.6 1408.5,848.1 1417.5,848.1 1417.5,840.9 1423.5,840.9 1423.5,848.1 1427.5,848.1 1427.5,833.6 1431.5,833.6 1431.5,826.4 1437.5,826.4 1437.5,811.9 1442.5,811.9 1442.5,819.1 1445.5,819.1 1445.5,826.4 1447.5,826.4 1447.5,811.9 1455.5,811.9 1455.5,819.1 1461.5,819.1 1461.5,848.1 1465.5,848.1 1465.5,826.4 1470.5,826.4 1470.5,833.6 1475.5,833.6 1475.5,826.4 1481.5,826.4 1481.5,833.6 1487.5,833.6 1487.5,826.4 1490.5,826.4 1490.5,804.6 1493.5,804.6 1493.5,819.1 1495.5,819.1 1495.5,811.9 1498.5,811.9 1498.5,819.1 1502.5,819.1 1502.5,811.9 1510.5,811.9 1510.5,826.4 1512.5,826.4 1512.5,811.9 1517.5,811.9 1517.5,819.1 1519.5,819.1 1519.5,811.9 1523.5,811.9 1523.5,819.1 1531.5,819.1 1531.5,826.4 1534.5,826.4 1534.5,819.1 1540.5,819.1 1540.5,826.4 1556.5,826.4 1556.5,811.9 1558.5,811.9 1558.5,819.1 1561.5,819.1 1561.5,833.6 1564.5,833.6 1564.5,826.4 1567.5,826.4 1567.5,833.6 1572.5,833.6 1572.5,826.4 1579.5,826.4 1579.5,819.1 1584.5,819.1 1584.5,833.6 1589.5,833.6 1589.5,840.9 1592.5,840.9 1592.5,833.6 1595.5,833.6 1595.5,840.9 1601.5,840.9 1601.5,848.1 1608.5,848.1 1608.5,840.9 1614.5,840.9 1614.5,833.6 1621.5,833.6 1621.5,840.9 1625.5,840.9 1625.5,848.1 1629.5,848.1 1629.5,826.4 1632.5,826.4 1632.5,833.6 1638.5,833.6 1638.5,840.9 1640.5,840.9 1640.5,833.6 1647.5,833.6 1647.5,840.9 1651.5,840.9 1651.5,833.6 1658.5,833.6 1658.5,840.9 1665.5,840.9 1665.5,833.6 1671.5,833.6 1671.5,826.4 1674.5,826.4 1674.5,855.4 1677.5,855.4 1677.5,840.9 1688.5,840.9 1688.5,826.4 1697.5,826.4 1697.5,833.6 1701.5,833.6 1701.5,848.1 1705.5,848.1 1705.5,862.6 1707.5,862.6 1707.5,826.4 1714.5,826.4 1714.5,833.6 1717.5,833.6 1717.5,826.4 1722.5,826.4 1722.5,819.1 1727.5,819.1 1727.5,833.6 1735.5,833.6 1735.5,840.9 1741.5,840.9 1741.5,833.6 1747.5,833.6 1747.5,826.4 1749.5,826.4 1749.5,833.6 1763.5,833.6 1763.5,819.1 1770.5,819.1 1770.5,826.4 1778.5,826.4 1778.5,811.9 1781.5,811.9 1781.5,819.1 1785.5,819.1 1785.5,826.4 1788.5,826.4 1788.5,833.6 1797.5,833.6 1797.5,826.4 1801.5,826.4 1801.5,819.1 1807.5,819.1 1807.5,826.4 1809.5,826.4 1809.5,833.6 1817.5,833.6 1817.5,840.9 1831.5,840.9 1831.5,833.6 1840.5,833.6 1840.5,826.4 1847.5,826.4 1847.5,833.6 1851.5,833.6 1851.5,840.9 1855.5,840.9 1855.5,862.6 1861.5,862.6 1861.5,848.1 1866.5,848.1 1866.5,833.6 1868.5,833.6 1868.5,848.1 1870.5,848.1 1870.5,840.9 1881.5,840.9 1881.5,826.4 1886.5,826.4 1886.5,840.9 1888.5,840.9 1888.5,833.6 1894.5,833.6 1894.5,819.1 1900.5,819.1 1900.5,826.4 1903.5,826.4 1903.5,833.6 1920.5,833.6 1920.5,826.4 1927.5,826.4 1927.5,811.9 1934.5,811.9 1934.5,804.6 1937.5,804.6 1937.5,811.9 1939.5,811.9 1939.5,826.4 1948.5,826.4 1948.5,811.9 1954.5,811.9 1954.5,833.6 1956.5,833.6 1956.5,819.1 1958.5,819.1 1958.5,811.9 1963.5,811.9 1963.5,826.4 1969.5,826.4 1969.5,819.1 1977.5,819.1 1977.5,833.6 1982.5,833.6 1982.5,811.9 1985.5,811.9 1985.5,826.4 1987.5,826.4 1987.5,811.9 1995.5,811.9 1995.5,819.1 1998.5,819.1 1998.5,811.9 2000.5,811.9 2000.5,826.4 2003.5,826.4 2003.5,811.9 2009.5,811.9 2009.5,804.6 2014.5,804.6 2014.5,819.1 2019.5,819.1 2019.5,811.9 2022.5,811.9 2022.5,804.6 2025.5,804.6 2025.5,797.4 2030.5,797.4 2030.5,790.2 2034.5,790.2 2034.5,797.4 2045.5,797.4 2045.5,790.2 2049.5,790.2 2049.5,804.6 2053.5,804.6 2053.5,811.9 2059.5,811.9 2059.5,804.6 2061.5,804.6 2061.5,790.2 2068.5,790.2 2068.5,804.6 2071.5,804.6 2071.5,797.4 2073.5,797.4 2073.5,790.2 2076.5,790.2 2076.5,804.6 2080.5,804.6 2080.5,790.2 2082.5,790.2 2082.5,797.4 2085.5,797.4 2085.5,804.6 2087.5,804.6 2087.5,797.4 2089.5,797.4 2089.5,790.2 2094.5,790.2 2094.5,782.9 2100.5,782.9 2100.5,797.4 2104.5,797.4 2104.5,782.9 2121.5,782.9 2121.5,775.7 2125.5,775.7 2125.5,782.9 2129.5,782.9 2129.5,790.2 2133.5,790.2 2133.5,797.4 2137.5,797.4 2137.5,804.6 2139.5,804.6 2139.5,782.9 2142.5,782.9 2142.5,797.4 2145.5,797.4 2145.5,782.9 2150.5,782.9 2150.5,797.4 2152.5,797.4 2152.5,782.9 2156.5,782.9 2156.5,790.2 2163.5,790.2 2163.5,782.9 2165.5,782.9 2165.5,790.2 2175.5,790.2 2175.5,782.9 2182.5,782.9 2182.5,797.4 2185.5,797.4 2185.5,790.2 2187.5,790.2 2187.5,782.9 2190.5,782.9 2190.5,790.2 2192.5,790.2 2192.5,804.6 2195.5,804.6 2195.5,811.9 2197.5,811.9 2197.5,790.2 2200.5,790.2 2200.5,782.9 2202.5,782.9 2202.5,790.2 2207.5,790.2 2207.5,804.6 2210.5,804.6 2210.5,811.9 2212.5,811.9 2212.5,790.2 2217.5,790.2 2217.5,782.9 2219.5,782.9 2219.5,775.7 2223.5,775.7 2223.5,782.9 2228.5,782.9 2228.5,790.2 2230.5,790.2 2230.5,797.4 2235.5,797.4 2235.5,782.9 2243.5,782.9 2243.5,775.7 2246.5,775.7 2246.5,782.9 2251.5,782.9 2251.5,775.7 2252.5,775.7 2252.5,845.2 2248.5,845.2 2248.5,837.9 2237.5,837.9 2237.5,830.7 2234.5,830.7 2234.5,837.9 2222.5,837.9 2222.5,845.2 2218.5,845.2 2218.5,859.7 2216.5,859.7 2216.5,866.9 2212.5,866.9 2212.5,859.7 2208.5,859.7 2208.5,845.2 2203.5,845.2 2203.5,837.9 2201.5,837.9 2201.5,845.2 2197.5,845.2 2197.5,852.4 2193.5,852.4 2193.5,859.7 2190.5,859.7 2190.5,852.4 2187.5,852.4 2187.5,845.2 2175.5,845.2 2175.5,852.4 2172.5,852.4 2172.5,837.9 2165.5,837.9 2165.5,845.2 2157.5,845.2 2157.5,852.4 2153.5,852.4 2153.5,837.9 2145.5,837.9 2145.5,845.2 2140.5,845.2 2140.5,837.9 2137.5,837.9 2137.5,845.2 2129.5,845.2 2129.5,837.9 2123.5,837.9 2123.5,830.7 2119.5,830.7 2119.5,837.9 2111.5,837.9 2111.5,845.2 2105.5,845.2 2105.5,852.4 2095.5,852.4 2095.5,845.2 2090.5,845.2 2090.5,852.4 2078.5,852.4 2078.5,859.7 2076.5,859.7 2076.5,845.2 2070.5,845.2 2070.5,852.4 2067.5,852.4 2067.5,859.7 2057.5,859.7 2057.5,866.9 2052.5,866.9 2052.5,852.4 2047.5,852.4 2047.5,866.9 2043.5,866.9 2043.5,859.7 2039.5,859.7 2039.5,845.2 2036.5,845.2 2036.5,859.7 2032.5,859.7 2032.5,845.2 2027.5,845.2 2027.5,859.7 2018.5,859.7 2018.5,866.9 1998.5,866.9 1998.5,859.7 1995.5,859.7 1995.5,866.9 1993.5,866.9 1993.5,881.4 1975.5,881.4 1975.5,888.7 1970.5,888.7 1970.5,874.2 1967.5,874.2 1967.5,888.7 1964.5,888.7 1964.5,874.2 1960.5,874.2 1960.5,866.9 1957.5,866.9 1957.5,881.4 1948.5,881.4 1948.5,888.7 1941.5,888.7 1941.5,881.4 1938.5,881.4 1938.5,874.2 1935.5,874.2 1935.5,859.7 1932.5,859.7 1932.5,874.2 1929.5,874.2 1929.5,895.9 1925.5,895.9 1925.5,888.7 1919.5,888.7 1919.5,895.9 1910.5,895.9 1910.5,888.7 1884.5,888.7 1884.5,895.9 1876.5,895.9 1876.5,903.2 1857.5,903.2 1857.5,910.4 1851.5,910.4 1851.5,888.7 1848.5,888.7 1848.5,895.9 1840.5,895.9 1840.5,903.2 1831.5,903.2 1831.5,888.7 1826.5,888.7 1826.5,895.9 1822.5,895.9 1822.5,903.2 1817.5,903.2 1817.5,888.7 1812.5,888.7 1812.5,895.9 1808.5,895.9 1808.5,881.4 1800.5,881.4 1800.5,888.7 1786.5,888.7 1786.5,881.4 1782.5,881.4 1782.5,888.7 1775.5,888.7 1775.5,903.2 1771.5,903.2 1771.5,895.9 1768.5,895.9 1768.5,881.4 1759.5,881.4 1759.5,888.7 1757.5,888.7 1757.5,881.4 1753.5,881.4 1753.5,888.7 1750.5,888.7 1750.5,881.4 1748.5,881.4 1748.5,888.7 1742.5,888.7 1742.5,895.9 1734.5,895.9 1734.5,888.7 1719.5,888.7 1719.5,895.9 1704.5,895.9 1704.5,910.4 1700.5,910.4 1700.5,895.9 1696.5,895.9 1696.5,903.2 1692.5,903.2 1692.5,888.7 1689.5,888.7 1689.5,895.9 1680.5,895.9 1680.5,903.2 1677.5,903.2 1677.5,895.9 1671.5,895.9 1671.5,888.7 1668.5,888.7 1668.5,895.9 1665.5,895.9 1665.5,903.2 1658.5,903.2 1658.5,895.9 1654.5,895.9 1654.5,903.2 1652.5,903.2 1652.5,910.4 1649.5,910.4 1649.5,903.2 1641.5,903.2 1641.5,895.9 1630.5,895.9 1630.5,888.7 1628.5,888.7 1628.5,881.4 1624.5,881.4 1624.5,895.9 1620.5,895.9 1620.5,888.7 1618.5,888.7 1618.5,881.4 1614.5,881.4 1614.5,903.2 1612.5,903.2 1612.5,888.7 1609.5,888.7 1609.5,895.9 1606.5,895.9 1606.5,903.2 1600.5,903.2 1600.5,895.9 1595.5,895.9 1595.5,903.2 1589.5,903.2 1589.5,895.9 1584.5,895.9 1584.5,888.7 1580.5,888.7 1580.5,881.4 1577.5,881.4 1577.5,888.7 1568.5,888.7 1568.5,881.4 1563.5,881.4 1563.5,888.7 1559.5,888.7 1559.5,881.4 1557.5,881.4 1557.5,874.2 1554.5,874.2 1554.5,881.4 1551.5,881.4 1551.5,888.7 1542.5,888.7 1542.5,895.9 1538.5,895.9 1538.5,888.7 1536.5,888.7 1536.5,874.2 1533.5,874.2 1533.5,866.9 1530.5,866.9 1530.5,881.4 1526.5,881.4 1526.5,874.2 1523.5,874.2 1523.5,866.9 1516.5,866.9 1516.5,881.4 1513.5,881.4 1513.5,874.2 1511.5,874.2 1511.5,866.9 1507.5,866.9 1507.5,859.7 1501.5,859.7 1501.5,881.4 1498.5,881.4 1498.5,874.2 1492.5,874.2 1492.5,888.7 1477.5,888.7 1477.5,881.4 1474.5,881.4 1474.5,895.9 1470.5,895.9 1470.5,888.7 1463.5,888.7 1463.5,881.4 1461.5,881.4 1461.5,888.7 1458.5,888.7 1458.5,895.9 1454.5,895.9 1454.5,874.2 1450.5,874.2 1450.5,881.4 1446.5,881.4 1446.5,866.9 1444.5,866.9 1444.5,874.2 1437.5,874.2 1437.5,888.7 1433.5,888.7 1433.5,895.9 1427.5,895.9 1427.5,903.2 1423.5,903.2 1423.5,910.4 1420.5,910.4 1420.5,895.9 1416.5,895.9 1416.5,903.2 1408.5,903.2 1408.5,910.4 1399.5,910.4 1399.5,903.2 1392.5,903.2 1392.5,895.9 1388.5,895.9 1388.5,903.2 1378.5,903.2 1378.5,895.9 1375.5,895.9 1375.5,903.2 1371.5,903.2 1371.5,917.7 1362.5,917.7 1362.5,910.4 1358.5,910.4 1358.5,917.7 1353.5,917.7 1353.5,910.4 1347.5,910.4 1347.5,903.2 1345.5,903.2 1345.5,917.7 1340.5,917.7 1340.5,903.2 1332.5,903.2 1332.5,895.9 1329.5,895.9 1329.5,903.2 1321.5,903.2 1321.5,895.9 1318.5,895.9 1318.5,888.7 1296.5,888.7 1296.5,874.2 1292.5,874.2 1292.5,881.4 1286.5,881.4 1286.5,874.2 1281.5,874.2 1281.5,888.7 1277.5,888.7 1277.5,895.9 1273.5,895.9 1273.5,888.7 1271.5,888.7 1271.5,895.9 1264.5,895.9 1264.5,888.7 1259.5,888.7 1259.5,874.2 1257.5,874.2 1257.5,881.4 1252.5,881.4 1252.5,895.9 1249.5,895.9 1249.5,874.2 1244.5,874.2 1244.5,881.4 1241.5,881.4 1241.5,888.7 1239.5,888.7 1239.5,874.2 1237.5,874.2 1237.5,881.4 1234.5,881.4 1234.5,888.7 1232.5,888.7 1232.5,881.4 1230.5,881.4 1230.5,888.7 1219.5,888.7 1219.5,881.4 1216.5,881.4 1216.5,888.7 1213.5,888.7 1213.5,874.2 1211.5,874.2 1211.5,888.7 1203.5,888.7 1203.5,881.4 1199.5,881.4 1199.5,888.7 1196.5,888.7 1196.5,881.4 1194.5,881.4 1194.5,874.2 1190.5,874.2 1190.5,881.4 1188.5,881.4 1188.5,895.9 1181.5,895.9 1181.5,874.2 1176.5,874.2 1176.5,888.7 1156.5,888.7 1156.5,895.9 1153.5,895.9 1153.5,903.2 1148.5,903.2 1148.5,888.7 1144.5,888.7 1144.5,881.4 1141.5,881.4 1141.5,903.2 1134.5,903.2 1134.5,895.9 1123.5,895.9 1123.5,903.2 1113.5,903.2 1113.5,888.7 1109.5,888.7 1109.5,903.2 1107.5,903.2 1107.5,895.9 1104.5,895.9 1104.5,917.7 1100.5,917.7 1100.5,910.4 1097.5,910.4 1097.5,903.2 1095.5,903.2 1095.5,895.9 1090.5,895.9 1090.5,888.7 1088.5,888.7 1088.5,903.2 1084.5,903.2 1084.5,895.9 1079.5,895.9 1079.5,903.2 1073.5,903.2 1073.5,895.9 1069.5,895.9 1069.5,888.7 1065.5,888.7 1065.5,895.9 1062.5,895.9 1062.5,903.2 1056.5,903.2 1056.5,888.7 1054.5,888.7 1054.5,895.9 1045.5,895.9 1045.5,888.7 1039.5,888.7 1039.5,874.2 1036.5,874.2 1036.5,888.7 1031.5,888.7 1031.5,881.4 1021.5,881.4 1021.5,888.7 1012.5,888.7 1012.5,895.9 1009.5,895.9 1009.5,910.4 1005.5,910.4 1005.5,903.2 1002.5,903.2 1002.5,910.4 999.5,910.4 999.5,903.2 996.5,903.2 996.5,895.9 992.5,895.9 992.5,881.4 988.5,881.4 988.5,888.7 984.5,888.7 984.5,903.2 979.5,903.2 979.5,895.9 974.5,895.9 974.5,888.7 969.5,888.7 969.5,895.9 966.5,895.9 966.5,888.7 963.5,888.7 963.5,874.2 960.5,874.2 960.5,881.4 952.5,881.4 952.5,866.9 945.5,866.9 945.5,845.2 941.5,845.2 941.5,859.7 937.5,859.7 937.5,852.4 929.5,852.4 929.5,881.4 915.5,881.4 915.5,895.9 910.5,895.9 910.5,888.7 904.5,888.7 904.5,859.7 900.5,859.7 900.5,866.9 898.5,866.9 898.5,874.2 894.5,874.2 894.5,866.9 890.5,866.9 890.5,881.4 886.5,881.4 886.5,874.2 878.5,874.2 878.5,859.7 875.5,859.7 875.5,852.4 872.5,852.4 872.5,866.9 869.5,866.9 869.5,874.2 864.5,874.2 864.5,866.9 862.5,866.9 862.5,881.4 859.5,881.4 859.5,874.2 853.5,874.2 853.5,888.7 847.5,888.7 847.5,895.9 840.5,895.9 840.5,888.7 833.5,888.7 833.5,874.2 830.5,874.2 830.5,866.9 824.5,866.9 824.5,874.2 818.5,874.2 818.5,881.4 810.5,881.4 810.5,874.2 806.5,874.2 806.5,866.9 801.5,866.9 801.5,859.7 798.5,859.7 798.5,852.4 792.5,852.4 792.5,837.9 790.5,837.9 790.5,845.2 788.5,845.2 788.5,852.4 784.5,852.4 784.5,837.9 776.5,837.9 776.5,823.4 772.5,823.4 772.5,816.2 767.5,816.2 767.5,823.4 763.5,823.4 763.5,830.7 761.5,830.7 761.5,837.9 758.5,837.9 758.5,830.7 755.5,830.7 755.5,837.9 751.5,837.9 751.5,859.7 742.5,859.7 742.5,866.9 739.5,866.9 739.5,859.7 737.5,859.7 737.5,852.4 731.5,852.4 731.5,859.7 726.5,859.7 726.5,852.4 721.5,852.4 721.5,845.2 719.5,845.2 719.5,837.9 717.5,837.9 717.5,866.9 710.5,866.9 710.5,859.7 704.5,859.7 704.5,881.4 698.5,881.4 698.5,874.2 693.5,874.2 693.5,881.4 691.5,881.4 691.5,874.2 687.5,874.2 687.5,881.4 685.5,881.4 685.5,888.7 681.5,888.7 681.5,895.9 677.5,895.9 677.5,903.2 671.5,903.2 671.5,881.4 665.5,881.4 665.5,874.2 663.5,874.2 663.5,881.4 660.5,881.4 660.5,859.7 654.5,859.7 654.5,866.9 651.5,866.9 651.5,874.2 647.5,874.2 647.5,881.4 643.5,881.4 643.5,874.2 641.5,874.2 641.5,866.9 631.5,866.9 631.5,881.4 627.5,881.4 627.5,874.2 622.5,874.2 622.5,852.4 619.5,852.4 619.5,859.7 617.5,859.7 617.5,845.2 612.5,845.2 612.5,830.7 610.5,830.7 610.5,823.4 607.5,823.4 607.5,830.7 595.5,830.7 595.5,837.9 584.5,837.9 584.5,845.2 580.5,845.2 580.5,837.9 572.5,837.9 572.5,830.7 568.5,830.7 568.5,837.9 557.5,837.9 557.5,852.4 555.5,852.4 555.5,859.7 552.5,859.7 552.5,866.9 548.5,866.9 548.5,874.2 545.5,874.2 545.5,895.9 537.5,895.9 537.5,881.4 532.5,881.4 532.5,866.9 530.5,866.9 530.5,881.4 526.5,881.4 526.5,874.2 521.5,874.2 521.5,866.9 518.5,866.9 518.5,874.2 513.5,874.2 513.5,866.9 511.5,866.9 511.5,859.7 504.5,859.7 504.5,866.9 502.5,866.9 502.5,859.7 496.5,859.7 496.5,852.4 494.5,852.4 494.5,830.7 484.5,830.7 484.5,845.2 479.5,845.2 479.5,852.4 472.5,852.4 472.5,837.9 469.5,837.9 469.5,852.4 462.5,852.4 462.5,859.7 456.5,859.7 456.5,852.4 439.5,852.4 439.5,837.9 436.5,837.9 436.5,845.2 433.5,845.2 433.5,837.9 419.5,837.9 419.5,830.7 414.5,830.7 414.5,816.2 407.5,816.2 407.5,808.9 394.5,808.9 394.5,816.2 386.5,816.2 386.5,794.5 381.5,794.5 381.5,787.2 378.5,787.2 378.5,772.7 375.5,772.7 375.5,765.5 371.5,765.5 371.5,777 370.5,777 370.5,777.7 369.5,777.7 369.5,777.2 368.5,777.2 368.5,774.9 367.5,774.9 367.5,772.6 366.5,772.6 366.5,770.2 365.5,770.2 365.5,767.9 364.5,767.9 364.5,765.2 363.5,765.2 363.5,762.4 362.5,762.4 362.5,759.7 361.5,759.7 361.5,756.9 360.5,756.9 360.5,754.2 359.5,754.2 359.5,751.4 358.5,751.4 358.5,753 357.5,753 357.5,754.6 356.5,754.6 356.5,756.2 355.5,756.2 355.5,757.9 354.5,757.9 354.5,759.5 353.5,759.5 353.5,761 352.5,761 352.5,759.2 351.5,759.2 351.5,757.4 350.5,757.4 350.5,755.6 349.5,755.6 349.5,756 348.5,756 348.5,761 347.5,761 347.5,766 346.5,766 346.5,771 345.5,771 345.5,772.9 338.5,772.9 338.5,772.1 337.5,772.1 337.5,768.3 336.5,768.3 336.5,764.4 335.5,764.4 335.5,760.5 334.5,760.5 334.5,756.6 333.5,756.6 333.5,752.8 332.5,752.8 332.5,760.3 331.5,760.3 331.5,815 330.5,815 330.5,883.3 329.5,883.3 329.5,950 328.5,950 328.5,979 327.5,979 327.5,1008 323.5,1008Z" fill="#000000"/>
<path d="M324,1313L324.5,1250 325.6,1180 327,1100 329.2,1040 331,990 333.5,930" fill="none" stroke="#0000ff" stroke-width="4.6"/>
<path d="M323.5,1290 324.5,1290 324.5,1150 325.5,1150 325.5,1076.2 326.5,1076.2 326.5,1020.9 327.5,1020.9 327.5,978.3 328.5,978.3 328.5,955 329.5,955 329.5,937.8 330.5,937.8 330.5,920.4 331.5,920.4 331.5,902.4 332.5,902.4 332.5,886 333.5,886 333.5,872.2 334.5,872.2 334.5,862.9 335.5,862.9 335.5,835 336.5,835 336.5,818.9 337.5,818.9 337.5,818.6 338.5,818.6 338.5,818.4 339.5,818.4 339.5,818.1 340.5,818.1 340.5,816.9 341.5,816.9 341.5,815 342.5,815 342.5,813.8 343.5,813.8 343.5,812.5 344.5,812.5 344.5,811.2 345.5,811.2 345.5,813.2 346.5,813.2 346.5,815.8 347.5,815.8 347.5,821.3 348.5,821.3 348.5,836.4 349.5,836.4 349.5,840.6 350.5,840.6 350.5,845.1 351.5,845.1 351.5,850.5 352.5,850.5 352.5,856 353.5,856 353.5,862.3 354.5,862.3 354.5,868.7 355.5,868.7 355.5,875 356.5,875 356.5,885.9 357.5,885.9 357.5,896.8 358.5,896.8 358.5,904.3 359.5,904.3 359.5,909.3 360.5,909.3 360.5,910.4 361.5,910.4 361.5,911.5 362.5,911.5 362.5,912.6 363.5,912.6 363.5,913.6 364.5,913.6 364.5,914.7 365.5,914.7 365.5,915.8 366.5,915.8 366.5,916.9 367.5,916.9 367.5,918 368.5,918 368.5,919.2 369.5,919.2 369.5,920.3 370.5,920.3 370.5,921.5 371.5,921.5 371.5,922.7 372.5,922.7 372.5,929.1 373.5,929.1 373.5,936 374.5,936 374.5,936.2 375.5,936.2 375.5,935.1 381.5,935.1 381.5,942.4 384.5,942.4 384.5,935.1 386.5,935.1 386.5,942.4 390.5,942.4 390.5,935.1 394.5,935.1 394.5,942.4 399.5,942.4 399.5,927.9 403.5,927.9 403.5,935.1 405.5,935.1 405.5,927.9 415.5,927.9 415.5,920.6 417.5,920.6 417.5,935.1 420.5,935.1 420.5,920.6 426.5,920.6 426.5,927.9 445.5,927.9 445.5,949.6 447.5,949.6 447.5,935.1 451.5,935.1 451.5,942.4 458.5,942.4 458.5,949.6 465.5,949.6 465.5,942.4 468.5,942.4 468.5,935.1 472.5,935.1 472.5,942.4 478.5,942.4 478.5,949.6 482.5,949.6 482.5,942.4 484.5,942.4 484.5,949.6 488.5,949.6 488.5,956.9 494.5,956.9 494.5,964.1 496.5,964.1 496.5,956.9 506.5,956.9 506.5,964.1 512.5,964.1 512.5,956.9 515.5,956.9 515.5,964.1 521.5,964.1 521.5,978.6 527.5,978.6 527.5,971.4 535.5,971.4 535.5,964.1 541.5,964.1 541.5,971.4 554.5,971.4 554.5,964.1 559.5,964.1 559.5,971.4 568.5,971.4 568.5,978.6 576.5,978.6 576.5,971.4 578.5,971.4 578.5,978.6 583.5,978.6 583.5,985.9 586.5,985.9 586.5,971.4 589.5,971.4 589.5,985.9 592.5,985.9 592.5,978.6 597.5,978.6 597.5,971.4 600.5,971.4 600.5,985.9 603.5,985.9 603.5,971.4 614.5,971.4 614.5,978.6 616.5,978.6 616.5,964.1 628.5,964.1 628.5,971.4 631.5,971.4 631.5,964.1 637.5,964.1 637.5,956.9 642.5,956.9 642.5,964.1 644.5,964.1 644.5,971.4 649.5,971.4 649.5,964.1 664.5,964.1 664.5,971.4 670.5,971.4 670.5,978.6 682.5,978.6 682.5,985.9 684.5,985.9 684.5,993.1 689.5,993.1 689.5,978.6 692.5,978.6 692.5,971.4 711.5,971.4 711.5,985.9 717.5,985.9 717.5,1000.4 729.5,1000.4 729.5,993.1 731.5,993.1 731.5,978.6 736.5,978.6 736.5,1007.6 738.5,1007.6 738.5,1000.4 750.5,1000.4 750.5,993.1 752.5,993.1 752.5,1000.4 756.5,1000.4 756.5,985.9 769.5,985.9 769.5,978.6 781.5,978.6 781.5,993.1 788.5,993.1 788.5,1000.4 794.5,1000.4 794.5,978.6 799.5,978.6 799.5,993.1 806.5,993.1 806.5,978.6 815.5,978.6 815.5,971.4 818.5,971.4 818.5,978.6 822.5,978.6 822.5,985.9 838.5,985.9 838.5,993.1 842.5,993.1 842.5,971.4 846.5,971.4 846.5,985.9 851.5,985.9 851.5,971.4 856.5,971.4 856.5,978.6 862.5,978.6 862.5,964.1 865.5,964.1 865.5,971.4 869.5,971.4 869.5,978.6 876.5,978.6 876.5,985.9 880.5,985.9 880.5,971.4 884.5,971.4 884.5,985.9 886.5,985.9 886.5,971.4 890.5,971.4 890.5,985.9 894.5,985.9 894.5,971.4 896.5,971.4 896.5,978.6 899.5,978.6 899.5,993.1 903.5,993.1 903.5,978.6 905.5,978.6 905.5,971.4 908.5,971.4 908.5,985.9 912.5,985.9 912.5,978.6 922.5,978.6 922.5,993.1 929.5,993.1 929.5,985.9 931.5,985.9 931.5,978.6 934.5,978.6 934.5,985.9 938.5,985.9 938.5,978.6 943.5,978.6 943.5,985.9 945.5,985.9 945.5,993.1 950.5,993.1 950.5,985.9 953.5,985.9 953.5,1000.4 956.5,1000.4 956.5,993.1 960.5,993.1 960.5,1000.4 966.5,1000.4 966.5,993.1 968.5,993.1 968.5,985.9 971.5,985.9 971.5,1000.4 974.5,1000.4 974.5,985.9 980.5,985.9 980.5,978.6 986.5,978.6 986.5,985.9 992.5,985.9 992.5,978.6 996.5,978.6 996.5,993.1 1003.5,993.1 1003.5,985.9 1007.5,985.9 1007.5,978.6 1015.5,978.6 1015.5,985.9 1018.5,985.9 1018.5,978.6 1020.5,978.6 1020.5,985.9 1023.5,985.9 1023.5,978.6 1029.5,978.6 1029.5,993.1 1041.5,993.1 1041.5,971.4 1047.5,971.4 1047.5,964.1 1050.5,964.1 1050.5,971.4 1056.5,971.4 1056.5,964.1 1062.5,964.1 1062.5,971.4 1070.5,971.4 1070.5,978.6 1073.5,978.6 1073.5,985.9 1078.5,985.9 1078.5,1000.4 1080.5,1000.4 1080.5,993.1 1089.5,993.1 1089.5,1000.4 1091.5,1000.4 1091.5,993.1 1095.5,993.1 1095.5,985.9 1098.5,985.9 1098.5,993.1 1100.5,993.1 1100.5,1000.4 1106.5,1000.4 1106.5,978.6 1109.5,978.6 1109.5,985.9 1112.5,985.9 1112.5,993.1 1116.5,993.1 1116.5,1000.4 1120.5,1000.4 1120.5,985.9 1125.5,985.9 1125.5,1000.4 1129.5,1000.4 1129.5,993.1 1132.5,993.1 1132.5,985.9 1140.5,985.9 1140.5,971.4 1142.5,971.4 1142.5,978.6 1148.5,978.6 1148.5,964.1 1156.5,964.1 1156.5,971.4 1158.5,971.4 1158.5,985.9 1172.5,985.9 1172.5,993.1 1178.5,993.1 1178.5,985.9 1182.5,985.9 1182.5,993.1 1188.5,993.1 1188.5,1000.4 1190.5,1000.4 1190.5,985.9 1193.5,985.9 1193.5,978.6 1200.5,978.6 1200.5,985.9 1208.5,985.9 1208.5,978.6 1212.5,978.6 1212.5,985.9 1216.5,985.9 1216.5,993.1 1219.5,993.1 1219.5,985.9 1225.5,985.9 1225.5,978.6 1231.5,978.6 1231.5,985.9 1236.5,985.9 1236.5,993.1 1241.5,993.1 1241.5,1000.4 1243.5,1000.4 1243.5,985.9 1247.5,985.9 1247.5,993.1 1250.5,993.1 1250.5,978.6 1256.5,978.6 1256.5,971.4 1262.5,971.4 1262.5,978.6 1264.5,978.6 1264.5,993.1 1268.5,993.1 1268.5,971.4 1276.5,971.4 1276.5,978.6 1282.5,978.6 1282.5,971.4 1289.5,971.4 1289.5,978.6 1293.5,978.6 1293.5,985.9 1296.5,985.9 1296.5,971.4 1298.5,971.4 1298.5,978.6 1302.5,978.6 1302.5,985.9 1308.5,985.9 1308.5,978.6 1315.5,978.6 1315.5,993.1 1318.5,993.1 1318.5,985.9 1327.5,985.9 1327.5,971.4 1341.5,971.4 1341.5,978.6 1351.5,978.6 1351.5,971.4 1354.5,971.4 1354.5,964.1 1357.5,964.1 1357.5,985.9 1361.5,985.9 1361.5,978.6 1364.5,978.6 1364.5,993.1 1369.5,993.1 1369.5,978.6 1371.5,978.6 1371.5,971.4 1382.5,971.4 1382.5,964.1 1384.5,964.1 1384.5,978.6 1387.5,978.6 1387.5,971.4 1389.5,971.4 1389.5,964.1 1392.5,964.1 1392.5,978.6 1399.5,978.6 1399.5,971.4 1403.5,971.4 1403.5,978.6 1405.5,978.6 1405.5,985.9 1409.5,985.9 1409.5,964.1 1413.5,964.1 1413.5,978.6 1422.5,978.6 1422.5,971.4 1425.5,971.4 1425.5,964.1 1434.5,964.1 1434.5,971.4 1440.5,971.4 1440.5,949.6 1443.5,949.6 1443.5,964.1 1448.5,964.1 1448.5,956.9 1455.5,956.9 1455.5,949.6 1458.5,949.6 1458.5,956.9 1461.5,956.9 1461.5,964.1 1463.5,964.1 1463.5,949.6 1473.5,949.6 1473.5,942.4 1475.5,942.4 1475.5,935.1 1479.5,935.1 1479.5,956.9 1482.5,956.9 1482.5,949.6 1486.5,949.6 1486.5,956.9 1489.5,956.9 1489.5,949.6 1491.5,949.6 1491.5,942.4 1503.5,942.4 1503.5,949.6 1510.5,949.6 1510.5,942.4 1517.5,942.4 1517.5,935.1 1519.5,935.1 1519.5,949.6 1522.5,949.6 1522.5,956.9 1525.5,956.9 1525.5,964.1 1531.5,964.1 1531.5,949.6 1535.5,949.6 1535.5,956.9 1544.5,956.9 1544.5,964.1 1555.5,964.1 1555.5,978.6 1557.5,978.6 1557.5,964.1 1569.5,964.1 1569.5,971.4 1572.5,971.4 1572.5,964.1 1575.5,964.1 1575.5,956.9 1578.5,956.9 1578.5,964.1 1581.5,964.1 1581.5,971.4 1583.5,971.4 1583.5,978.6 1586.5,978.6 1586.5,964.1 1588.5,964.1 1588.5,971.4 1599.5,971.4 1599.5,985.9 1602.5,985.9 1602.5,978.6 1606.5,978.6 1606.5,971.4 1610.5,971.4 1610.5,978.6 1612.5,978.6 1612.5,964.1 1616.5,964.1 1616.5,971.4 1633.5,971.4 1633.5,978.6 1636.5,978.6 1636.5,985.9 1638.5,985.9 1638.5,978.6 1646.5,978.6 1646.5,985.9 1649.5,985.9 1649.5,971.4 1653.5,971.4 1653.5,985.9 1656.5,985.9 1656.5,978.6 1659.5,978.6 1659.5,985.9 1662.5,985.9 1662.5,964.1 1684.5,964.1 1684.5,978.6 1688.5,978.6 1688.5,964.1 1691.5,964.1 1691.5,956.9 1694.5,956.9 1694.5,964.1 1700.5,964.1 1700.5,971.4 1704.5,971.4 1704.5,964.1 1708.5,964.1 1708.5,949.6 1713.5,949.6 1713.5,964.1 1716.5,964.1 1716.5,935.1 1719.5,935.1 1719.5,942.4 1723.5,942.4 1723.5,949.6 1734.5,949.6 1734.5,956.9 1742.5,956.9 1742.5,942.4 1748.5,942.4 1748.5,935.1 1755.5,935.1 1755.5,927.9 1763.5,927.9 1763.5,935.1 1766.5,935.1 1766.5,942.4 1768.5,942.4 1768.5,927.9 1771.5,927.9 1771.5,949.6 1774.5,949.6 1774.5,942.4 1776.5,942.4 1776.5,935.1 1782.5,935.1 1782.5,949.6 1784.5,949.6 1784.5,935.1 1788.5,935.1 1788.5,927.9 1792.5,927.9 1792.5,942.4 1794.5,942.4 1794.5,935.1 1800.5,935.1 1800.5,949.6 1802.5,949.6 1802.5,942.4 1807.5,942.4 1807.5,927.9 1811.5,927.9 1811.5,935.1 1818.5,935.1 1818.5,942.4 1820.5,942.4 1820.5,927.9 1826.5,927.9 1826.5,935.1 1830.5,935.1 1830.5,920.6 1834.5,920.6 1834.5,935.1 1837.5,935.1 1837.5,927.9 1840.5,927.9 1840.5,920.6 1850.5,920.6 1850.5,927.9 1854.5,927.9 1854.5,920.6 1864.5,920.6 1864.5,927.9 1869.5,927.9 1869.5,920.6 1872.5,920.6 1872.5,927.9 1877.5,927.9 1877.5,920.6 1880.5,920.6 1880.5,906.1 1889.5,906.1 1889.5,898.9 1909.5,898.9 1909.5,906.1 1923.5,906.1 1923.5,898.9 1937.5,898.9 1937.5,906.1 1943.5,906.1 1943.5,913.4 1946.5,913.4 1946.5,906.1 1951.5,906.1 1951.5,891.6 1955.5,891.6 1955.5,898.9 1959.5,898.9 1959.5,906.1 1962.5,906.1 1962.5,898.9 1967.5,898.9 1967.5,891.6 1975.5,891.6 1975.5,898.9 1989.5,898.9 1989.5,891.6 1997.5,891.6 1997.5,884.4 1999.5,884.4 1999.5,906.1 2002.5,906.1 2002.5,898.9 2007.5,898.9 2007.5,906.1 2012.5,906.1 2012.5,898.9 2017.5,898.9 2017.5,891.6 2023.5,891.6 2023.5,906.1 2027.5,906.1 2027.5,898.9 2031.5,898.9 2031.5,891.6 2035.5,891.6 2035.5,898.9 2040.5,898.9 2040.5,877.1 2042.5,877.1 2042.5,891.6 2048.5,891.6 2048.5,906.1 2052.5,906.1 2052.5,884.4 2054.5,884.4 2054.5,891.6 2056.5,891.6 2056.5,884.4 2059.5,884.4 2059.5,877.1 2070.5,877.1 2070.5,869.9 2083.5,869.9 2083.5,877.1 2085.5,877.1 2085.5,869.9 2088.5,869.9 2088.5,877.1 2091.5,877.1 2091.5,869.9 2094.5,869.9 2094.5,877.1 2097.5,877.1 2097.5,869.9 2100.5,869.9 2100.5,877.1 2107.5,877.1 2107.5,891.6 2110.5,891.6 2110.5,877.1 2113.5,877.1 2113.5,906.1 2116.5,906.1 2116.5,898.9 2118.5,898.9 2118.5,906.1 2121.5,906.1 2121.5,898.9 2123.5,898.9 2123.5,906.1 2129.5,906.1 2129.5,898.9 2134.5,898.9 2134.5,939.4 2132.5,939.4 2132.5,946.7 2129.5,946.7 2129.5,953.9 2124.5,953.9 2124.5,946.7 2121.5,946.7 2121.5,939.4 2119.5,939.4 2119.5,924.9 2116.5,924.9 2116.5,939.4 2109.5,939.4 2109.5,924.9 2105.5,924.9 2105.5,932.2 2103.5,932.2 2103.5,924.9 2095.5,924.9 2095.5,917.7 2085.5,917.7 2085.5,924.9 2077.5,924.9 2077.5,917.7 2069.5,917.7 2069.5,932.2 2064.5,932.2 2064.5,910.4 2059.5,910.4 2059.5,924.9 2057.5,924.9 2057.5,932.2 2051.5,932.2 2051.5,939.4 2045.5,939.4 2045.5,932.2 2037.5,932.2 2037.5,946.7 2033.5,946.7 2033.5,939.4 2030.5,939.4 2030.5,932.2 2026.5,932.2 2026.5,939.4 2023.5,939.4 2023.5,932.2 2017.5,932.2 2017.5,939.4 2013.5,939.4 2013.5,946.7 1997.5,946.7 1997.5,939.4 1979.5,939.4 1979.5,953.9 1975.5,953.9 1975.5,939.4 1969.5,939.4 1969.5,946.7 1964.5,946.7 1964.5,953.9 1960.5,953.9 1960.5,946.7 1951.5,946.7 1951.5,953.9 1948.5,953.9 1948.5,961.2 1946.5,961.2 1946.5,946.7 1942.5,946.7 1942.5,953.9 1936.5,953.9 1936.5,946.7 1925.5,946.7 1925.5,961.2 1919.5,961.2 1919.5,953.9 1915.5,953.9 1915.5,946.7 1906.5,946.7 1906.5,953.9 1900.5,953.9 1900.5,946.7 1898.5,946.7 1898.5,953.9 1893.5,953.9 1893.5,961.2 1888.5,961.2 1888.5,968.4 1871.5,968.4 1871.5,961.2 1866.5,961.2 1866.5,953.9 1862.5,953.9 1862.5,968.4 1844.5,968.4 1844.5,975.7 1838.5,975.7 1838.5,982.9 1835.5,982.9 1835.5,990.2 1832.5,990.2 1832.5,982.9 1818.5,982.9 1818.5,975.7 1814.5,975.7 1814.5,982.9 1796.5,982.9 1796.5,990.2 1794.5,990.2 1794.5,982.9 1775.5,982.9 1775.5,975.7 1767.5,975.7 1767.5,982.9 1761.5,982.9 1761.5,990.2 1759.5,990.2 1759.5,982.9 1754.5,982.9 1754.5,990.2 1741.5,990.2 1741.5,997.4 1735.5,997.4 1735.5,1004.7 1733.5,1004.7 1733.5,990.2 1729.5,990.2 1729.5,982.9 1724.5,982.9 1724.5,990.2 1717.5,990.2 1717.5,997.4 1706.5,997.4 1706.5,1004.7 1704.5,1004.7 1704.5,1019.2 1698.5,1019.2 1698.5,1011.9 1696.5,1011.9 1696.5,1004.7 1691.5,1004.7 1691.5,1019.2 1683.5,1019.2 1683.5,1011.9 1680.5,1011.9 1680.5,1026.4 1678.5,1026.4 1678.5,1019.2 1665.5,1019.2 1665.5,1026.4 1661.5,1026.4 1661.5,1033.7 1657.5,1033.7 1657.5,1026.4 1645.5,1026.4 1645.5,1033.7 1637.5,1033.7 1637.5,1026.4 1630.5,1026.4 1630.5,1033.7 1626.5,1033.7 1626.5,1026.4 1621.5,1026.4 1621.5,1033.7 1619.5,1033.7 1619.5,1040.9 1617.5,1040.9 1617.5,1019.2 1614.5,1019.2 1614.5,1033.7 1610.5,1033.7 1610.5,1019.2 1608.5,1019.2 1608.5,1040.9 1605.5,1040.9 1605.5,1033.7 1591.5,1033.7 1591.5,1026.4 1583.5,1026.4 1583.5,1004.7 1581.5,1004.7 1581.5,1011.9 1574.5,1011.9 1574.5,1004.7 1566.5,1004.7 1566.5,1011.9 1564.5,1011.9 1564.5,1019.2 1556.5,1019.2 1556.5,1011.9 1552.5,1011.9 1552.5,1019.2 1549.5,1019.2 1549.5,1004.7 1541.5,1004.7 1541.5,997.4 1537.5,997.4 1537.5,1011.9 1535.5,1011.9 1535.5,1004.7 1526.5,1004.7 1526.5,990.2 1511.5,990.2 1511.5,997.4 1508.5,997.4 1508.5,1004.7 1498.5,1004.7 1498.5,997.4 1493.5,997.4 1493.5,982.9 1491.5,982.9 1491.5,997.4 1488.5,997.4 1488.5,982.9 1482.5,982.9 1482.5,997.4 1469.5,997.4 1469.5,1004.7 1466.5,1004.7 1466.5,997.4 1464.5,997.4 1464.5,990.2 1460.5,990.2 1460.5,1011.9 1455.5,1011.9 1455.5,997.4 1453.5,997.4 1453.5,1011.9 1445.5,1011.9 1445.5,997.4 1441.5,997.4 1441.5,1004.7 1437.5,1004.7 1437.5,997.4 1434.5,997.4 1434.5,1011.9 1429.5,1011.9 1429.5,1026.4 1424.5,1026.4 1424.5,1011.9 1422.5,1011.9 1422.5,1026.4 1418.5,1026.4 1418.5,1040.9 1411.5,1040.9 1411.5,1033.7 1406.5,1033.7 1406.5,1026.4 1397.5,1026.4 1397.5,1019.2 1391.5,1019.2 1391.5,1033.7 1386.5,1033.7 1386.5,1026.4 1367.5,1026.4 1367.5,1019.2 1364.5,1019.2 1364.5,1033.7 1361.5,1033.7 1361.5,1026.4 1355.5,1026.4 1355.5,1033.7 1353.5,1033.7 1353.5,1026.4 1348.5,1026.4 1348.5,1011.9 1342.5,1011.9 1342.5,1019.2 1337.5,1019.2 1337.5,1011.9 1334.5,1011.9 1334.5,1033.7 1330.5,1033.7 1330.5,1026.4 1325.5,1026.4 1325.5,1033.7 1313.5,1033.7 1313.5,1026.4 1298.5,1026.4 1298.5,1019.2 1293.5,1019.2 1293.5,1011.9 1290.5,1011.9 1290.5,1026.4 1287.5,1026.4 1287.5,1011.9 1284.5,1011.9 1284.5,1019.2 1279.5,1019.2 1279.5,1026.4 1275.5,1026.4 1275.5,1004.7 1273.5,1004.7 1273.5,1011.9 1270.5,1011.9 1270.5,1004.7 1267.5,1004.7 1267.5,1026.4 1265.5,1026.4 1265.5,1011.9 1262.5,1011.9 1262.5,1033.7 1260.5,1033.7 1260.5,1026.4 1258.5,1026.4 1258.5,1033.7 1252.5,1033.7 1252.5,1040.9 1244.5,1040.9 1244.5,1033.7 1242.5,1033.7 1242.5,1040.9 1237.5,1040.9 1237.5,1048.2 1235.5,1048.2 1235.5,1040.9 1232.5,1040.9 1232.5,1033.7 1226.5,1033.7 1226.5,1040.9 1210.5,1040.9 1210.5,1033.7 1199.5,1033.7 1199.5,1026.4 1193.5,1026.4 1193.5,1033.7 1184.5,1033.7 1184.5,1040.9 1180.5,1040.9 1180.5,1033.7 1173.5,1033.7 1173.5,1026.4 1167.5,1026.4 1167.5,1033.7 1161.5,1033.7 1161.5,1026.4 1140.5,1026.4 1140.5,1033.7 1137.5,1033.7 1137.5,1048.2 1134.5,1048.2 1134.5,1040.9 1127.5,1040.9 1127.5,1055.4 1121.5,1055.4 1121.5,1048.2 1118.5,1048.2 1118.5,1040.9 1115.5,1040.9 1115.5,1048.2 1111.5,1048.2 1111.5,1040.9 1108.5,1040.9 1108.5,1033.7 1102.5,1033.7 1102.5,1040.9 1098.5,1040.9 1098.5,1048.2 1092.5,1048.2 1092.5,1040.9 1090.5,1040.9 1090.5,1055.4 1085.5,1055.4 1085.5,1048.2 1079.5,1048.2 1079.5,1055.4 1077.5,1055.4 1077.5,1033.7 1074.5,1033.7 1074.5,1040.9 1068.5,1040.9 1068.5,1033.7 1063.5,1033.7 1063.5,1019.2 1060.5,1019.2 1060.5,1026.4 1056.5,1026.4 1056.5,1019.2 1054.5,1019.2 1054.5,1033.7 1050.5,1033.7 1050.5,1011.9 1048.5,1011.9 1048.5,1026.4 1044.5,1026.4 1044.5,1033.7 1033.5,1033.7 1033.5,1026.4 1024.5,1026.4 1024.5,1019.2 1022.5,1019.2 1022.5,1026.4 1020.5,1026.4 1020.5,1011.9 1017.5,1011.9 1017.5,1033.7 1001.5,1033.7 1001.5,1040.9 992.5,1040.9 992.5,1033.7 983.5,1033.7 983.5,1040.9 979.5,1040.9 979.5,1055.4 976.5,1055.4 976.5,1048.2 972.5,1048.2 972.5,1040.9 966.5,1040.9 966.5,1026.4 964.5,1026.4 964.5,1040.9 959.5,1040.9 959.5,1033.7 956.5,1033.7 956.5,1048.2 952.5,1048.2 952.5,1040.9 943.5,1040.9 943.5,1033.7 940.5,1033.7 940.5,1026.4 937.5,1026.4 937.5,1033.7 930.5,1033.7 930.5,1026.4 924.5,1026.4 924.5,1040.9 918.5,1040.9 918.5,1048.2 916.5,1048.2 916.5,1055.4 913.5,1055.4 913.5,1048.2 911.5,1048.2 911.5,1043.4 910.5,1043.4 910.5,1039.5 909.5,1039.5 909.5,1035.6 908.5,1035.6 908.5,1031.7 907.5,1031.7 907.5,1026.4 898.5,1026.4 898.5,1033.7 896.5,1033.7 896.5,1026.4 884.5,1026.4 884.5,1033.7 876.5,1033.7 876.5,1026.4 871.5,1026.4 871.5,1011.9 867.5,1011.9 867.5,1033.7 861.5,1033.7 861.5,1048.2 858.5,1048.2 858.5,1040.9 852.5,1040.9 852.5,1026.4 848.5,1026.4 848.5,1033.7 839.5,1033.7 839.5,1040.9 823.5,1040.9 823.5,1033.7 820.5,1033.7 820.5,1040.9 818.5,1040.9 818.5,1033.7 814.5,1033.7 814.5,1048.2 807.5,1048.2 807.5,1040.9 803.5,1040.9 803.5,1048.2 798.5,1048.2 798.5,1040.9 796.5,1040.9 796.5,1033.7 792.5,1033.7 792.5,1040.9 783.5,1040.9 783.5,1026.4 776.5,1026.4 776.5,1040.9 761.5,1040.9 761.5,1026.4 757.5,1026.4 757.5,1055.4 751.5,1055.4 751.5,1048.2 747.5,1048.2 747.5,1055.4 744.5,1055.4 744.5,1033.7 741.5,1033.7 741.5,1048.2 734.5,1048.2 734.5,1055.4 732.5,1055.4 732.5,1048.2 722.5,1048.2 722.5,1033.7 720.5,1033.7 720.5,1040.9 714.5,1040.9 714.5,1033.7 710.5,1033.7 710.5,1026.4 706.5,1026.4 706.5,1033.7 696.5,1033.7 696.5,1040.9 689.5,1040.9 689.5,1033.7 686.5,1033.7 686.5,1048.2 679.5,1048.2 679.5,1040.9 676.5,1040.9 676.5,1026.4 673.5,1026.4 673.5,1040.9 669.5,1040.9 669.5,1033.7 667.5,1033.7 667.5,1026.4 658.5,1026.4 658.5,1019.2 655.5,1019.2 655.5,1026.4 650.5,1026.4 650.5,1019.2 646.5,1019.2 646.5,1011.9 643.5,1011.9 643.5,1019.2 636.5,1019.2 636.5,1026.4 630.5,1026.4 630.5,1033.7 627.5,1033.7 627.5,1040.9 624.5,1040.9 624.5,1033.7 612.5,1033.7 612.5,1019.2 610.5,1019.2 610.5,1026.4 598.5,1026.4 598.5,1033.7 596.5,1033.7 596.5,1019.2 594.5,1019.2 594.5,1040.9 580.5,1040.9 580.5,1019.2 577.5,1019.2 577.5,1026.4 571.5,1026.4 571.5,1033.7 567.5,1033.7 567.5,1026.4 562.5,1026.4 562.5,1019.2 556.5,1019.2 556.5,1011.9 550.5,1011.9 550.5,1026.4 541.5,1026.4 541.5,1019.2 538.5,1019.2 538.5,1026.4 521.5,1026.4 521.5,1019.2 513.5,1019.2 513.5,1004.7 503.5,1004.7 503.5,1011.9 499.5,1011.9 499.5,1004.7 489.5,1004.7 489.5,1011.9 486.5,1011.9 486.5,997.4 481.5,997.4 481.5,1004.7 479.5,1004.7 479.5,997.4 473.5,997.4 473.5,990.2 470.5,990.2 470.5,997.4 459.5,997.4 459.5,975.7 457.5,975.7 457.5,982.9 454.5,982.9 454.5,968.4 450.5,968.4 450.5,982.9 441.5,982.9 441.5,975.7 435.5,975.7 435.5,982.9 431.5,982.9 431.5,975.7 429.5,975.7 429.5,982.9 426.5,982.9 426.5,975.7 417.5,975.7 417.5,982.9 413.5,982.9 413.5,975.7 411.5,975.7 411.5,982.9 409.5,982.9 409.5,990.2 405.5,990.2 405.5,982.9 401.5,982.9 401.5,997.4 397.5,997.4 397.5,982.9 395.5,982.9 395.5,997.4 391.5,997.4 391.5,982.9 377.5,982.9 377.5,968.4 375.5,968.4 375.5,986 373.5,986 373.5,984.9 372.5,984.9 372.5,983.1 371.5,983.1 371.5,980.2 370.5,980.2 370.5,977.4 369.5,977.4 369.5,974.5 368.5,974.5 368.5,971.6 367.5,971.6 367.5,968.8 366.5,968.8 366.5,966.9 365.5,966.9 365.5,965 364.5,965 364.5,963.1 363.5,963.1 363.5,961.2 362.5,961.2 362.5,959.4 361.5,959.4 361.5,957.5 360.5,957.5 360.5,955.6 359.5,955.6 359.5,951.3 358.5,951.3 358.5,945.7 357.5,945.7 357.5,939.4 356.5,939.4 356.5,933 355.5,933 355.5,928 354.5,928 354.5,923 353.5,923 353.5,918 352.5,918 352.5,908.5 351.5,908.5 351.5,898.9 350.5,898.9 350.5,894.1 349.5,894.1 349.5,890.4 348.5,890.4 348.5,885.9 347.5,885.9 347.5,878.8 346.5,878.8 346.5,871.2 345.5,871.2 345.5,865.7 344.5,865.7 344.5,869.1 343.5,869.1 343.5,872.6 342.5,872.6 342.5,876 341.5,876 341.5,903.2 340.5,903.2 340.5,914.2 339.5,914.2 339.5,917.2 338.5,917.2 338.5,920.1 337.5,920.1 337.5,923.1 336.5,923.1 336.5,932 335.5,932 335.5,948.1 334.5,948.1 334.5,963.4 333.5,963.4 333.5,986 332.5,986 332.5,1014.6 331.5,1014.6 331.5,1049.9 330.5,1049.9 330.5,1076.1 329.5,1076.1 329.5,1100 328.5,1100 328.5,1166.7 327.5,1166.7 327.5,1238.7 326.5,1238.7 326.5,1295.1 325.5,1295.1 325.5,1312 323.5,1312Z" fill="#0000ff"/>
</g>
<text class="tk" x="322.8" y="1619.3" text-anchor="middle">0</text>
<text class="tk" x="708.3" y="1619.3" text-anchor="middle">1</text>
<text class="tk" x="1093.7" y="1619.3" text-anchor="middle">2</text>
<text class="tk" x="1479.2" y="1619.3" text-anchor="middle">3</text>
<text class="tk" x="1864.6" y="1619.3" text-anchor="middle">4</text>
<text class="tk" x="2250.1" y="1619.3" text-anchor="middle">5</text>
<text class="tk" x="297" y="1547.8" text-anchor="end">0</text>
<text class="tk" x="297" y="1257.8" text-anchor="end">0.2</text>
<text class="tk" x="297" y="967.9" text-anchor="end">0.4</text>
<text class="tk" x="297" y="677.9" text-anchor="end">0.6</text>
<text class="tk" x="297" y="388.0" text-anchor="end">0.8</text>
<text class="tk" x="297" y="98.0" text-anchor="end">1</text>
<text class="lb" x="1286.7" y="1720.7" text-anchor="middle" style="letter-spacing:1px">Cycles</text>
<text class="lb" transform="translate(102.8,761) rotate(-90)" text-anchor="middle">Average coefficient of friction</text>
<text x="2059" y="1756" style="font-weight:normal;font-size:114px">×</text>
<text class="tk" x="2126.5" y="1738">10</text>
<text x="2215.5" y="1696.8" style="font-size:66.67px">4</text>
<rect x="1892" y="108.9" width="317.2" height="264.4" fill="#fff" stroke="#262626" stroke-width="4.3"/>
<path d="M1917,157.9H2050.1" stroke="#ff0000" stroke-width="4.3"/>
<text class="lg" x="2059.3" y="186.3" style="letter-spacing:-0.7px">30N</text>
<path d="M1917,241.9H2050.1" stroke="#000000" stroke-width="4.3"/>
<text class="lg" x="2059.3" y="270.3" style="letter-spacing:-0.7px">40N</text>
<path d="M1917,325.9H2050.1" stroke="#0000ff" stroke-width="4.3"/>
<text class="lg" x="2059.3" y="354.3" style="letter-spacing:-0.7px">50N</text>
</svg></body></html>
